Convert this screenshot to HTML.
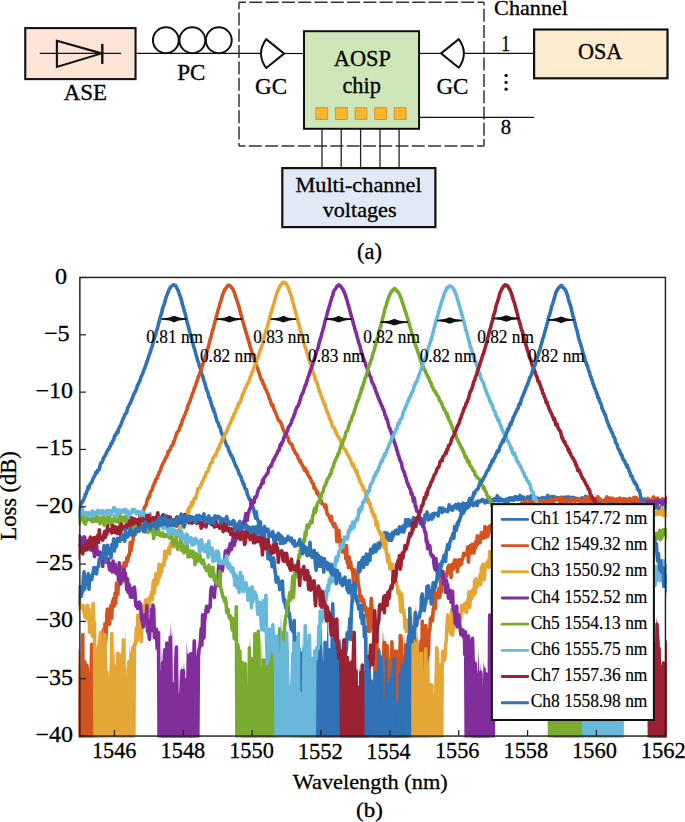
<!DOCTYPE html><html><head><meta charset="utf-8"><style>html,body{margin:0;padding:0;background:#fff;width:685px;height:822px;overflow:hidden}svg{display:block}text{font-family:"Liberation Serif",serif;fill:#000;stroke:#000;stroke-width:0.3px}.sm{stroke-width:0.18px}</style></head><body><svg width="685" height="822" viewBox="0 0 685 822"><path d="M239,2.2 L484,2.2" stroke="#333" stroke-width="1.5" stroke-dasharray="13 3.3" stroke-dashoffset="6" fill="none"/>
<path d="M484,146.1 L484,2.2" stroke="#333" stroke-width="1.5" stroke-dasharray="13 3.3" stroke-dashoffset="6" fill="none"/>
<path d="M484,146.1 L239,146.1" stroke="#333" stroke-width="1.5" stroke-dasharray="13 3.3" stroke-dashoffset="6" fill="none"/>
<path d="M239,2.2 L239,146.1" stroke="#333" stroke-width="1.5" stroke-dasharray="13 3.3" stroke-dashoffset="6" fill="none"/>
<rect x="25.25" y="28.1" width="110.3" height="51.0" fill="#fce4d7" stroke="#111" stroke-width="2.1"/>
<line x1="39.8" y1="53.4" x2="121" y2="53.4" stroke="#111" stroke-width="1.2"/>
<path d="M56.9,40.8 L101.6,53.4 L56.9,66.9 Z" fill="none" stroke="#111" stroke-width="2.1" stroke-linejoin="miter"/>
<line x1="102.3" y1="43.9" x2="102.3" y2="63.9" stroke="#111" stroke-width="2.4"/>
<line x1="136" y1="53.4" x2="261" y2="53.4" stroke="#111" stroke-width="1.2"/>
<circle cx="165.85" cy="40.25" r="12.9" fill="none" stroke="#111" stroke-width="2"/>
<circle cx="192.35" cy="40.25" r="12.9" fill="none" stroke="#111" stroke-width="2"/>
<circle cx="218.8" cy="40.25" r="12.9" fill="none" stroke="#111" stroke-width="2"/>
<path d="M266.2,39.1 L284.1,53.6 L266.2,68.0 Q255.8,53.55 266.2,39.1 Z" fill="none" stroke="#111" stroke-width="2" stroke-linejoin="round"/>
<line x1="284.1" y1="53.5" x2="304" y2="53.5" stroke="#111" stroke-width="1.2"/>
<rect x="304.0" y="31.2" width="115.05" height="97.6" fill="#cde6b8" stroke="#111" stroke-width="2"/>
<rect x="315.90" y="107.65" width="11.8" height="11.8" fill="#f6b72c" stroke="#ea8536" stroke-width="0.9"/>
<rect x="335.50" y="107.65" width="11.8" height="11.8" fill="#f6b72c" stroke="#ea8536" stroke-width="0.9"/>
<rect x="355.10" y="107.65" width="11.8" height="11.8" fill="#f6b72c" stroke="#ea8536" stroke-width="0.9"/>
<rect x="374.70" y="107.65" width="11.8" height="11.8" fill="#f6b72c" stroke="#ea8536" stroke-width="0.9"/>
<rect x="394.30" y="107.65" width="11.8" height="11.8" fill="#f6b72c" stroke="#ea8536" stroke-width="0.9"/>
<line x1="322" y1="129" x2="322" y2="168" stroke="#222" stroke-width="1.3"/>
<line x1="341.2" y1="129" x2="341.2" y2="168" stroke="#222" stroke-width="1.3"/>
<line x1="360.6" y1="129" x2="360.6" y2="168" stroke="#222" stroke-width="1.3"/>
<line x1="380" y1="129" x2="380" y2="168" stroke="#222" stroke-width="1.3"/>
<line x1="399.1" y1="129" x2="399.1" y2="168" stroke="#222" stroke-width="1.3"/>
<line x1="419" y1="53.4" x2="441.1" y2="53.4" stroke="#111" stroke-width="1.2"/>
<path d="M441.1,53.4 L458.8,39.1 Q469.0,53.4 458.8,67.7 Z" fill="none" stroke="#111" stroke-width="2" stroke-linejoin="round"/>
<line x1="464" y1="53.4" x2="534" y2="53.4" stroke="#111" stroke-width="1.2"/>
<line x1="419" y1="117.4" x2="534" y2="117.4" stroke="#111" stroke-width="1.25"/>
<rect x="534.1" y="29.5" width="133.4" height="48.8" fill="#fdecce" stroke="#111" stroke-width="2.2"/>
<rect x="282.3" y="168.1" width="153.1" height="59.0" fill="#e0e9f5" stroke="#111" stroke-width="2.2"/>
<circle cx="506.1" cy="75.5" r="1.65" fill="#111"/>
<circle cx="506.1" cy="82.4" r="1.65" fill="#111"/>
<circle cx="506.1" cy="89.2" r="1.65" fill="#111"/>
<text transform="translate(63.77,100.35) scale(1.0200,1)" font-size="22.50">ASE</text>
<text transform="translate(177.21,79.93) scale(0.9908,1)" font-size="23.28">PC</text>
<text transform="translate(255.07,93.82) scale(0.9646,1)" font-size="24.03">GC</text>
<text transform="translate(436.38,93.82) scale(0.9613,1)" font-size="24.03">GC</text>
<text x="333.78" y="65.95" font-size="22.35">AOSP</text>
<text transform="translate(342.40,92.94) scale(0.9900,1)" font-size="22.67">chip</text>
<text transform="translate(494.11,15.47) scale(1.0289,1)" font-size="21.55">Channel</text>
<text transform="translate(501.21,51.40) scale(0.7592,1)" font-size="23.33">1</text>
<text transform="translate(500.87,134.06) scale(0.9441,1)" font-size="21.94">8</text>
<text transform="translate(577.91,59.04) scale(0.9742,1)" font-size="22.79">OSA</text>
<text transform="translate(295.43,192.28) scale(1.0200,1)" font-size="21.86">Multi-channel</text>
<text transform="translate(322.70,216.50) scale(1.1091,1)" font-size="20.00">voltages</text>
<text transform="translate(357.00,258.77) scale(0.9751,1)" font-size="23.00">(a)</text>
<defs><clipPath id="ax"><rect x="78.5" y="276.0" width="588.3" height="461.5"/></clipPath></defs>
<g clip-path="url(#ax)" fill="none" stroke-width="3.6" stroke-linejoin="round" stroke-linecap="round">
<polygon fill="#2f72b5" stroke="none" points="300.3,753.2 300.3,653.5 301.0,657.9 301.7,658.7 302.4,658.3 303.1,651.7 303.8,655.2 304.5,648.9 305.2,668.8 305.9,653.8 306.5,655.0 307.2,658.2 307.9,662.5 308.6,652.0 309.3,675.9 310.0,653.1 310.7,667.0 311.4,666.6 312.1,665.6 312.7,676.8 313.4,658.6 314.1,649.0 314.8,651.3 315.5,653.7 316.2,677.6 316.9,655.6 317.6,648.8 318.3,650.5 318.9,638.5 319.6,657.8 320.3,630.9 321.0,642.6 321.7,674.7 322.4,643.5 323.1,663.6 323.8,661.5 324.4,662.9 325.1,642.4 325.8,660.0 326.5,653.1 327.2,628.5 327.9,594.7 328.6,648.4 329.3,649.9 330.0,673.5 330.6,667.4 331.3,655.4 332.0,655.6 332.7,603.8 333.4,631.6 334.1,650.4 334.8,642.6 335.5,647.2 336.2,648.4 336.8,642.8 337.5,649.3 338.2,648.9 338.9,640.9 339.6,653.7 340.3,658.9 340.3,753.2"/>
<polyline stroke="#2f72b5" points="76.6,515.0 77.2,515.2 77.9,514.8 78.6,510.4 79.3,510.2 80.0,509.7 80.7,504.3 81.4,503.6 82.1,501.3 82.8,501.8 83.4,499.8 84.1,498.6 84.8,496.9 85.5,494.0 86.2,493.7 86.9,490.9 87.6,489.5 88.3,486.5 89.0,488.3 89.6,484.7 90.3,484.3 91.0,482.8 91.7,482.7 92.4,480.4 93.1,478.0 93.8,477.4 94.5,475.9 95.1,474.9 95.8,472.2 96.5,472.0 97.2,472.6 97.9,469.9 98.6,469.7 99.3,469.6 100.0,465.8 100.7,462.9 101.3,462.7 102.0,462.5 102.7,461.0 103.4,457.9 104.1,457.4 104.8,456.2 105.5,455.0 106.2,453.6 106.9,451.7 107.5,450.6 108.2,449.5 108.9,449.3 109.6,446.7 110.3,446.3 111.0,443.5 111.7,444.1 112.4,441.8 113.1,440.4 113.7,440.1 114.4,436.3 115.1,435.1 115.8,435.2 116.5,432.9 117.2,431.7 117.9,432.6 118.6,429.0 119.2,427.8 119.9,426.2 120.6,425.5 121.3,423.5 122.0,421.9 122.7,419.3 123.4,418.4 124.1,417.1 124.8,414.5 125.4,414.4 126.1,412.8 126.8,412.2 127.5,408.3 128.2,407.2 128.9,405.7 129.6,404.3 130.3,403.1 131.0,401.4 131.6,400.1 132.3,398.5 133.0,396.7 133.7,394.2 134.4,393.2 135.1,392.0 135.8,390.6 136.5,389.0 137.2,386.0 137.8,385.0 138.5,383.6 139.2,382.1 139.9,380.8 140.6,378.5 141.3,376.2 142.0,375.1 142.7,373.3 143.4,371.5 144.0,369.5 144.7,368.6 145.4,366.0 146.1,364.4 146.8,361.6 147.5,360.6 148.2,357.9 148.9,355.5 149.5,354.4 150.2,352.5 150.9,349.9 151.6,347.8 152.3,345.9 153.0,343.0 153.7,340.0 154.4,338.6 155.1,336.2 155.7,334.2 156.4,331.2 157.1,329.4 157.8,326.9 158.5,323.5 159.2,321.9 159.9,318.6 160.6,316.0 161.3,314.0 161.9,311.5 162.6,308.5 163.3,306.8 164.0,304.6 164.7,302.5 165.4,299.9 166.1,297.3 166.8,295.4 167.5,294.0 168.1,292.1 168.8,290.4 169.5,288.8 170.2,288.0 170.9,286.9 171.6,286.1 172.3,285.6 173.0,285.0 173.6,284.7 174.3,285.1 175.0,285.4 175.7,285.7 176.4,287.1 177.1,288.3 177.8,290.1 178.5,290.9 179.2,293.7 179.8,295.6 180.5,297.1 181.2,299.4 181.9,302.0 182.6,305.0 183.3,307.1 184.0,309.9 184.7,312.1 185.4,314.1 186.0,317.5 186.7,320.5 187.4,323.4 188.1,325.6 188.8,328.3 189.5,331.3 190.2,333.4 190.9,336.6 191.6,338.1 192.2,340.7 192.9,343.1 193.6,346.3 194.3,348.2 195.0,350.9 195.7,353.4 196.4,355.7 197.1,358.5 197.7,360.8 198.4,362.0 199.1,364.8 199.8,366.9 200.5,368.7 201.2,372.5 201.9,374.2 202.6,376.0 203.3,378.1 203.9,380.8 204.6,382.2 205.3,384.9 206.0,387.9 206.7,390.0 207.4,391.1 208.1,393.5 208.8,397.1 209.5,397.2 210.1,399.8 210.8,401.4 211.5,404.6 212.2,406.6 212.9,409.2 213.6,408.7 214.3,412.6 215.0,413.3 215.7,416.8 216.3,418.2 217.0,421.4 217.7,422.4 218.4,423.2 219.1,426.7 219.8,426.8 220.5,429.1 221.2,431.9 221.8,433.2 222.5,434.9 223.2,436.3 223.9,438.4 224.6,440.3 225.3,441.6 226.0,443.8 226.7,445.7 227.4,446.3 228.0,447.1 228.7,450.7 229.4,451.1 230.1,453.2 230.8,455.1 231.5,455.1 232.2,457.8 232.9,457.7 233.6,461.2 234.2,461.7 234.9,463.8 235.6,465.9 236.3,466.2 237.0,468.5 237.7,469.4 238.4,471.5 239.1,474.0 239.8,474.7 240.4,476.2 241.1,476.9 241.8,480.3 242.5,481.1 243.2,484.3 243.9,483.7 244.6,487.0 245.3,489.3 245.9,489.3 246.6,489.8 247.3,494.4 248.0,495.7 248.7,497.1 249.4,499.5 250.1,499.1 250.8,502.7 251.5,504.4 252.1,504.1 252.8,508.3 253.5,507.9 254.2,512.5 254.9,514.9 255.6,518.2 256.3,511.9 257.0,518.7 257.7,519.2 258.3,521.7 259.0,523.1 259.7,525.2 260.4,521.9 261.1,532.1 261.8,535.6 262.5,535.9 263.2,538.9 263.9,534.1 264.5,535.7 265.2,543.7 265.9,547.2 266.6,545.5 267.3,541.0 268.0,558.8 268.7,548.0 269.4,556.3 270.1,549.7 270.7,560.5 271.4,559.3 272.1,566.7 272.8,566.5 273.5,557.9 274.2,562.5 274.9,570.3 275.6,574.8 276.2,582.1 276.9,576.8 277.6,577.1 278.3,579.6 279.0,581.8 279.7,589.7 280.4,586.1 281.1,588.1 281.8,582.6 282.4,581.2 283.1,595.3 283.8,601.4 284.5,599.2 285.2,604.9 285.9,608.0 286.6,605.8 287.3,615.0 288.0,605.7 288.6,613.3 289.3,613.1 290.0,618.8 290.7,625.6 291.4,629.5 292.1,626.3 292.8,631.5 293.5,627.4 294.2,620.6 294.8,753.2 295.5,753.2 296.2,637.5 296.9,753.2 297.6,753.2 298.3,667.9 299.0,648.7 299.7,753.2 300.3,653.5 301.0,657.9 301.7,658.7 302.4,658.3 303.1,651.7 303.8,753.2 304.5,648.9 305.2,753.2 305.9,753.2 306.5,655.0 307.2,753.2 307.9,753.2 308.6,652.0 309.3,753.2 310.0,753.2 310.7,667.0 311.4,753.2 312.1,753.2 312.7,676.8 313.4,753.2 314.1,753.2 314.8,651.3 315.5,753.2 316.2,677.6 316.9,655.6 317.6,648.8 318.3,753.2 318.9,753.2 319.6,657.8 320.3,630.9 321.0,753.2 321.7,753.2 322.4,753.2 323.1,753.2 323.8,753.2 324.4,753.2 325.1,642.4 325.8,753.2 326.5,753.2 327.2,753.2 327.9,753.2 328.6,753.2 329.3,649.9 330.0,753.2 330.6,753.2 331.3,655.4 332.0,655.6 332.7,603.8 333.4,631.6 334.1,753.2 334.8,753.2 335.5,753.2 336.2,648.4 336.8,642.8 337.5,649.3 338.2,648.9 338.9,640.9 339.6,653.7 340.3,753.2 341.0,753.2 341.7,753.2 342.4,654.4 343.0,671.9 343.7,641.7 344.4,642.1 345.1,642.5 345.8,653.0 346.5,647.3 347.2,632.8 347.9,633.5 348.5,637.7 349.2,629.9 349.9,618.6 350.6,639.4 351.3,613.7 352.0,602.1 352.7,597.0 353.4,586.7 354.1,586.2 354.7,587.2 355.4,583.6 356.1,577.6 356.8,581.7 357.5,576.5 358.2,569.7 358.9,562.8 359.6,571.8 360.3,569.7 360.9,567.1 361.6,560.3 362.3,565.5 363.0,557.4 363.7,567.3 364.4,562.6 365.1,561.6 365.8,556.2 366.5,554.1 367.1,564.2 367.8,560.7 368.5,554.5 369.2,557.8 369.9,560.5 370.6,549.2 371.3,550.7 372.0,550.0 372.6,553.1 373.3,546.4 374.0,550.7 374.7,544.8 375.4,551.8 376.1,550.9 376.8,546.2 377.5,548.9 378.2,543.1 378.8,544.0 379.5,547.7 380.2,543.4 380.9,544.3 381.6,539.3 382.3,544.1 383.0,542.9 383.7,536.6 384.4,532.6 385.0,532.9 385.7,538.9 386.4,537.9 387.1,533.0 387.8,538.0 388.5,540.3 389.2,536.3 389.9,534.7 390.6,538.3 391.2,540.4 391.9,539.3 392.6,532.2 393.3,536.2 394.0,533.8 394.7,532.3 395.4,530.6 396.1,533.1 396.8,530.2 397.4,533.9 398.1,531.9 398.8,533.4 399.5,526.7 400.2,529.6 400.9,531.3 401.6,529.8 402.3,529.0 402.9,526.0 403.6,532.1 404.3,530.1 405.0,527.9 405.7,519.5 406.4,523.5 407.1,526.1 407.8,523.5 408.5,519.5 409.1,525.4 409.8,525.4 410.5,520.8 411.2,522.4 411.9,521.6 412.6,524.4 413.3,517.8 414.0,518.0 414.7,520.6 415.3,520.0 416.0,526.5 416.7,519.5 417.4,521.3 418.1,519.4 418.8,518.5 419.5,520.7 420.2,523.7 420.9,518.4 421.5,520.7 422.2,519.4 422.9,519.8 423.6,518.9 424.3,523.2 425.0,514.7 425.7,516.6 426.4,514.4 427.0,512.1 427.7,516.3 428.4,520.1 429.1,517.8 429.8,518.2 430.5,516.3 431.2,514.8 431.9,519.1 432.6,513.7 433.2,517.4 433.9,513.3 434.6,513.9 435.3,514.1 436.0,513.3 436.7,514.1 437.4,514.0 438.1,516.0 438.8,512.3 439.4,508.2 440.1,507.8 440.8,508.9 441.5,509.9 442.2,512.5 442.9,508.0 443.6,510.8 444.3,510.7 445.0,510.9 445.6,509.9 446.3,510.8 447.0,509.9 447.7,511.6 448.4,510.0 449.1,504.8 449.8,509.1 450.5,509.2 451.1,507.5 451.8,507.0 452.5,510.3 453.2,508.4 453.9,506.1 454.6,507.1 455.3,507.2 456.0,504.4 456.7,508.3 457.3,506.8 458.0,507.7 458.7,503.9 459.4,509.9 460.1,507.4 460.8,507.0 461.5,504.7 462.2,504.7 462.9,503.1 463.5,508.1 464.2,503.9 464.9,505.6 465.6,506.0 466.3,503.8 467.0,506.2 467.7,507.9 468.4,504.9 469.1,506.6 469.7,505.1 470.4,503.2 471.1,503.2 471.8,500.9 472.5,503.7 473.2,505.7 473.9,504.3 474.6,504.4 475.2,504.7 475.9,502.0 476.6,503.5 477.3,505.5 478.0,501.1 478.7,502.3 479.4,501.4 480.1,501.6 480.8,500.7 481.4,501.5 482.1,499.5 482.8,500.6 483.5,500.5 484.2,500.3 484.9,503.0 485.6,500.9 486.3,500.9 487.0,500.1 487.6,502.3 488.3,497.8 489.0,499.9 489.7,501.8 490.4,502.4 491.1,500.3 491.8,500.0 492.5,500.8 493.2,499.6 493.8,500.6 494.5,498.8 495.2,500.6 495.9,499.6 496.6,498.1 497.3,495.8 498.0,500.9 498.7,500.1 499.4,500.6 500.0,498.2 500.7,500.9 501.4,499.9 502.1,499.3 502.8,500.6 503.5,500.5 504.2,499.8 504.9,502.1 505.5,501.1 506.2,499.6 506.9,498.8 507.6,499.2 508.3,501.5 509.0,499.6 509.7,497.8 510.4,498.1 511.1,499.0 511.7,500.1 512.4,497.9 513.1,499.6 513.8,500.4 514.5,499.9 515.2,496.7 515.9,498.4 516.6,497.1 517.3,499.4 517.9,497.4 518.6,499.6 519.3,498.9 520.0,495.2 520.7,497.6 521.4,499.4 522.1,498.8 522.8,498.3 523.5,497.0 524.1,499.4 524.8,501.2 525.5,499.1 526.2,498.7 526.9,498.6 527.6,496.9 528.3,498.3 529.0,497.6 529.6,500.3 530.3,497.5 531.0,495.8 531.7,497.6 532.4,498.4 533.1,498.5 533.8,496.2 534.5,500.0 535.2,498.9 535.8,498.1 536.5,497.7 537.2,499.3 537.9,498.3 538.6,499.1 539.3,498.6 540.0,498.9 540.7,500.3 541.4,498.8 542.0,497.5 542.7,500.1 543.4,499.1 544.1,497.8 544.8,500.2 545.5,498.5 546.2,500.2 546.9,497.1 547.6,495.5 548.2,495.9 548.9,499.0 549.6,497.7 550.3,498.6 551.0,498.6 551.7,496.5 552.4,500.6 553.1,497.2 553.7,498.8 554.4,496.7 555.1,498.5 555.8,499.7 556.5,498.3 557.2,497.7 557.9,498.7 558.6,498.0 559.3,499.5 559.9,501.7 560.6,497.5 561.3,497.7 562.0,498.5 562.7,498.6 563.4,497.3 564.1,499.4 564.8,499.7 565.5,499.0 566.1,497.1 566.8,500.7 567.5,497.1 568.2,499.7 568.9,500.4 569.6,497.1 570.3,499.0 571.0,500.7 571.7,499.4 572.3,497.6 573.0,497.3 573.7,499.6 574.4,498.5 575.1,498.1 575.8,500.0 576.5,498.6 577.2,499.2 577.8,500.0 578.5,500.0 579.2,499.2 579.9,499.3 580.6,500.2 581.3,500.0 582.0,497.9 582.7,499.2 583.4,498.3 584.0,497.9 584.7,498.8 585.4,496.4 586.1,501.0 586.8,498.6 587.5,500.4 588.2,497.2 588.9,497.5 589.6,502.9 590.2,501.5 590.9,499.2 591.6,499.1 592.3,499.2 593.0,500.4 593.7,499.7 594.4,499.5 595.1,500.6 595.8,499.0 596.4,504.0 597.1,499.7 597.8,502.3 598.5,499.4 599.2,501.2 599.9,502.3 600.6,500.4 601.3,502.5 601.9,502.5 602.6,503.6 603.3,501.3 604.0,500.6 604.7,499.8 605.4,501.7 606.1,499.9 606.8,501.5 607.5,501.8 608.1,500.8 608.8,500.1 609.5,502.3 610.2,502.3 610.9,502.2 611.6,501.9 612.3,503.5 613.0,500.5 613.7,502.8 614.3,501.5 615.0,503.6 615.7,501.8 616.4,501.8 617.1,503.1 617.8,499.3 618.5,502.0 619.2,499.8 619.9,501.2 620.5,503.8 621.2,503.4 621.9,502.2 622.6,502.8 623.3,502.9 624.0,503.5 624.7,506.1 625.4,503.6 626.1,506.9 626.7,502.7 627.4,504.6 628.1,504.6 628.8,503.9 629.5,503.1 630.2,506.0 630.9,506.6 631.6,505.6 632.2,507.3 632.9,505.6 633.6,501.4 634.3,505.8 635.0,503.1 635.7,506.5 636.4,503.8 637.1,504.9 637.8,504.5 638.4,503.6 639.1,501.6 639.8,504.3 640.5,504.5 641.2,506.5 641.9,503.9 642.6,505.4 643.3,503.6 644.0,505.2 644.6,502.2 645.3,508.7 646.0,505.9 646.7,503.9 647.4,506.1 648.1,507.0 648.8,506.1 649.5,508.2 650.2,505.6 650.8,501.6 651.5,504.0 652.2,508.0 652.9,507.7 653.6,506.9 654.3,504.5 655.0,507.9 655.7,507.7 656.3,505.0 657.0,505.1 657.7,507.4 658.4,508.8 659.1,509.7 659.8,508.3 660.5,511.1 661.2,505.8 661.9,508.4 662.5,506.4 663.2,504.0 663.9,505.4 664.6,509.7 665.3,506.1 666.0,505.6 666.7,509.2 667.4,509.7 668.1,508.2 668.7,511.1"/>
<polygon fill="#d45420" stroke="none" points="76.6,753.2 76.6,673.2 77.2,650.1 77.9,656.9 78.6,666.2 79.3,710.1 80.0,680.3 80.7,674.1 81.4,682.4 82.1,672.2 82.8,634.5 83.4,673.9 84.1,682.9 84.8,661.7 85.5,668.3 86.2,668.2 86.9,665.4 87.6,673.7 88.3,679.8 89.0,696.5 89.6,683.3 90.3,670.6 91.0,680.9 91.7,644.4 92.4,664.6 93.1,686.4 93.8,669.8 94.5,649.2 95.1,652.0 95.1,753.2"/>
<polygon fill="#d45420" stroke="none" points="378.2,753.2 378.2,649.1 378.8,668.9 379.5,668.4 380.2,664.2 380.9,647.2 381.6,662.8 382.3,642.7 383.0,629.2 383.7,643.3 384.4,642.6 385.0,648.2 385.7,666.0 386.4,639.8 387.1,645.5 387.8,665.5 388.5,674.8 389.2,660.3 389.9,647.6 390.6,653.3 391.2,657.9 391.9,641.9 392.6,663.6 393.3,671.9 394.0,652.9 394.7,655.5 395.4,651.1 396.1,684.7 396.8,675.2 397.4,681.1 398.1,685.2 398.8,650.7 399.5,639.0 400.2,635.5 400.9,636.1 401.6,645.9 402.3,688.9 402.9,664.2 403.6,656.8 404.3,630.4 405.0,677.4 405.7,644.8 406.4,656.8 407.1,667.1 407.8,658.6 408.5,664.1 409.1,668.5 409.8,627.6 410.5,617.8 411.2,648.2 411.9,639.9 412.6,637.0 413.3,647.3 414.0,622.2 414.7,647.4 415.3,603.3 416.0,622.4 416.7,642.1 417.4,630.6 418.1,656.5 418.8,671.1 419.5,681.6 420.2,667.3 420.9,640.7 421.5,677.2 422.2,621.0 422.9,659.5 423.6,641.5 424.3,643.1 425.0,640.9 425.0,753.2"/>
<polyline stroke="#d45420" points="76.6,673.2 77.2,650.1 77.9,656.9 78.6,753.2 79.3,710.1 80.0,753.2 80.7,753.2 81.4,753.2 82.1,672.2 82.8,634.5 83.4,753.2 84.1,753.2 84.8,661.7 85.5,668.3 86.2,753.2 86.9,665.4 87.6,673.7 88.3,679.8 89.0,753.2 89.6,683.3 90.3,753.2 91.0,680.9 91.7,644.4 92.4,664.6 93.1,686.4 93.8,753.2 94.5,753.2 95.1,652.0 95.8,753.2 96.5,657.0 97.2,670.0 97.9,673.8 98.6,647.6 99.3,646.9 100.0,640.5 100.7,643.5 101.3,753.2 102.0,646.3 102.7,635.2 103.4,629.6 104.1,632.7 104.8,624.0 105.5,642.5 106.2,632.5 106.9,613.4 107.5,609.0 108.2,618.0 108.9,618.3 109.6,624.2 110.3,610.4 111.0,605.3 111.7,618.3 112.4,602.2 113.1,600.4 113.7,598.4 114.4,606.0 115.1,593.2 115.8,603.3 116.5,583.2 117.2,589.0 117.9,594.2 118.6,577.8 119.2,576.8 119.9,584.4 120.6,567.1 121.3,581.7 122.0,572.7 122.7,566.2 123.4,580.9 124.1,562.9 124.8,565.8 125.4,563.4 126.1,565.9 126.8,557.5 127.5,561.5 128.2,558.6 128.9,554.3 129.6,555.2 130.3,542.2 131.0,551.0 131.6,546.7 132.3,543.0 133.0,539.8 133.7,535.1 134.4,533.0 135.1,534.6 135.8,532.7 136.5,529.4 137.2,525.2 137.8,523.7 138.5,524.9 139.2,526.8 139.9,514.4 140.6,515.5 141.3,515.2 142.0,513.2 142.7,513.1 143.4,512.1 144.0,508.9 144.7,506.9 145.4,505.8 146.1,505.3 146.8,501.7 147.5,498.6 148.2,498.4 148.9,496.0 149.5,496.9 150.2,492.9 150.9,491.2 151.6,490.6 152.3,489.5 153.0,485.9 153.7,485.5 154.4,482.7 155.1,482.0 155.7,479.5 156.4,478.8 157.1,478.4 157.8,475.6 158.5,474.3 159.2,471.9 159.9,471.4 160.6,469.9 161.3,467.3 161.9,465.6 162.6,464.5 163.3,462.8 164.0,461.8 164.7,460.1 165.4,458.5 166.1,457.5 166.8,456.3 167.5,454.8 168.1,451.4 168.8,451.9 169.5,450.6 170.2,449.3 170.9,447.5 171.6,445.8 172.3,445.4 173.0,444.5 173.6,441.2 174.3,441.1 175.0,438.1 175.7,436.6 176.4,434.3 177.1,432.3 177.8,431.7 178.5,430.8 179.2,429.6 179.8,427.6 180.5,425.3 181.2,425.2 181.9,421.9 182.6,420.2 183.3,418.0 184.0,416.9 184.7,414.8 185.4,413.6 186.0,411.6 186.7,410.7 187.4,407.6 188.1,404.8 188.8,403.9 189.5,401.9 190.2,401.0 190.9,397.5 191.6,397.0 192.2,394.1 192.9,392.7 193.6,391.4 194.3,388.2 195.0,386.9 195.7,384.9 196.4,382.7 197.1,381.0 197.7,379.2 198.4,376.7 199.1,375.2 199.8,372.9 200.5,371.2 201.2,369.6 201.9,367.1 202.6,364.9 203.3,362.5 203.9,359.8 204.6,359.1 205.3,356.1 206.0,355.0 206.7,352.2 207.4,349.6 208.1,348.1 208.8,345.5 209.5,342.2 210.1,339.8 210.8,337.4 211.5,335.2 212.2,331.4 212.9,329.8 213.6,327.6 214.3,324.0 215.0,321.8 215.7,319.6 216.3,316.4 217.0,314.2 217.7,311.5 218.4,309.1 219.1,307.0 219.8,303.9 220.5,301.8 221.2,300.0 221.8,297.7 222.5,295.0 223.2,293.4 223.9,291.5 224.6,289.8 225.3,288.9 226.0,288.5 226.7,286.9 227.4,286.0 228.0,285.5 228.7,285.0 229.4,285.7 230.1,286.0 230.8,286.4 231.5,287.9 232.2,288.2 232.9,289.2 233.6,290.8 234.2,292.0 234.9,294.3 235.6,296.9 236.3,298.3 237.0,300.7 237.7,302.8 238.4,305.2 239.1,307.2 239.8,309.9 240.4,312.8 241.1,314.8 241.8,317.2 242.5,320.2 243.2,322.6 243.9,325.1 244.6,327.7 245.3,329.7 245.9,331.9 246.6,333.9 247.3,336.6 248.0,339.0 248.7,341.3 249.4,343.5 250.1,346.6 250.8,348.4 251.5,350.9 252.1,353.2 252.8,355.5 253.5,357.5 254.2,359.4 254.9,361.8 255.6,362.8 256.3,365.0 257.0,366.9 257.7,368.6 258.3,370.3 259.0,372.9 259.7,374.4 260.4,377.1 261.1,379.3 261.8,380.9 262.5,380.6 263.2,384.4 263.9,384.7 264.5,385.9 265.2,388.7 265.9,389.2 266.6,390.7 267.3,392.9 268.0,393.7 268.7,396.4 269.4,398.9 270.1,399.7 270.7,402.0 271.4,404.1 272.1,405.7 272.8,404.9 273.5,408.4 274.2,409.6 274.9,411.6 275.6,412.6 276.2,414.3 276.9,416.0 277.6,418.1 278.3,419.7 279.0,420.7 279.7,421.5 280.4,421.6 281.1,423.8 281.8,424.7 282.4,427.1 283.1,428.9 283.8,431.3 284.5,431.7 285.2,434.7 285.9,434.6 286.6,434.5 287.3,436.9 288.0,437.6 288.6,440.1 289.3,442.2 290.0,442.8 290.7,444.0 291.4,444.0 292.1,444.7 292.8,448.1 293.5,449.1 294.2,450.2 294.8,451.6 295.5,453.6 296.2,453.8 296.9,454.8 297.6,456.0 298.3,458.6 299.0,458.9 299.7,461.5 300.3,460.5 301.0,463.4 301.7,463.9 302.4,465.3 303.1,466.7 303.8,468.3 304.5,470.2 305.2,468.3 305.9,470.8 306.5,472.1 307.2,471.6 307.9,474.9 308.6,475.5 309.3,477.2 310.0,477.4 310.7,479.3 311.4,480.7 312.1,482.5 312.7,483.3 313.4,483.7 314.1,488.1 314.8,487.5 315.5,489.1 316.2,490.3 316.9,493.4 317.6,491.8 318.3,494.9 318.9,495.6 319.6,497.3 320.3,500.3 321.0,500.0 321.7,503.5 322.4,503.6 323.1,504.0 323.8,504.9 324.4,506.1 325.1,507.8 325.8,504.9 326.5,509.5 327.2,514.2 327.9,514.4 328.6,516.0 329.3,516.4 330.0,518.8 330.6,520.8 331.3,516.2 332.0,521.6 332.7,524.0 333.4,525.3 334.1,526.7 334.8,523.7 335.5,527.7 336.2,527.3 336.8,541.6 337.5,532.7 338.2,531.9 338.9,530.4 339.6,538.4 340.3,546.1 341.0,539.8 341.7,545.8 342.4,552.0 343.0,549.5 343.7,544.8 344.4,545.9 345.1,549.6 345.8,558.5 346.5,545.5 347.2,562.8 347.9,559.9 348.5,567.7 349.2,557.0 349.9,562.6 350.6,562.1 351.3,567.5 352.0,569.9 352.7,570.4 353.4,582.3 354.1,569.5 354.7,571.5 355.4,580.0 356.1,579.8 356.8,580.0 357.5,574.8 358.2,583.0 358.9,587.3 359.6,592.7 360.3,601.0 360.9,598.1 361.6,596.5 362.3,601.2 363.0,601.6 363.7,600.0 364.4,605.7 365.1,610.4 365.8,606.9 366.5,612.5 367.1,616.3 367.8,614.3 368.5,631.3 369.2,608.7 369.9,631.2 370.6,614.7 371.3,598.4 372.0,607.8 372.6,618.1 373.3,627.7 374.0,625.4 374.7,636.6 375.4,753.2 376.1,642.9 376.8,637.8 377.5,753.2 378.2,649.1 378.8,668.9 379.5,753.2 380.2,664.2 380.9,753.2 381.6,662.8 382.3,753.2 383.0,753.2 383.7,753.2 384.4,642.6 385.0,753.2 385.7,666.0 386.4,753.2 387.1,645.5 387.8,753.2 388.5,714.6 389.2,660.3 389.9,753.2 390.6,753.2 391.2,753.2 391.9,641.9 392.6,663.6 393.3,753.2 394.0,652.9 394.7,753.2 395.4,651.1 396.1,684.7 396.8,675.2 397.4,753.2 398.1,753.2 398.8,650.7 399.5,696.8 400.2,635.5 400.9,636.1 401.6,645.9 402.3,753.2 402.9,664.2 403.6,656.8 404.3,753.2 405.0,753.2 405.7,644.8 406.4,753.2 407.1,753.2 407.8,753.2 408.5,664.1 409.1,753.2 409.8,753.2 410.5,617.8 411.2,648.2 411.9,639.9 412.6,637.0 413.3,753.2 414.0,695.0 414.7,753.2 415.3,753.2 416.0,753.2 416.7,642.1 417.4,753.2 418.1,753.2 418.8,753.2 419.5,681.6 420.2,753.2 420.9,640.7 421.5,753.2 422.2,621.0 422.9,753.2 423.6,753.2 424.3,643.1 425.0,640.9 425.7,625.5 426.4,648.1 427.0,753.2 427.7,632.4 428.4,654.9 429.1,629.9 429.8,630.5 430.5,618.3 431.2,621.6 431.9,616.4 432.6,620.5 433.2,608.9 433.9,609.6 434.6,590.5 435.3,608.6 436.0,593.6 436.7,595.8 437.4,595.1 438.1,597.1 438.8,588.7 439.4,597.6 440.1,594.8 440.8,581.0 441.5,591.8 442.2,573.7 442.9,581.6 443.6,577.6 444.3,577.4 445.0,574.6 445.6,577.2 446.3,576.7 447.0,574.5 447.7,567.8 448.4,566.6 449.1,565.1 449.8,568.9 450.5,571.0 451.1,577.4 451.8,565.5 452.5,564.0 453.2,569.3 453.9,562.9 454.6,560.1 455.3,565.1 456.0,560.0 456.7,562.9 457.3,571.7 458.0,565.3 458.7,564.4 459.4,559.5 460.1,565.1 460.8,562.5 461.5,564.1 462.2,559.3 462.9,558.0 463.5,553.4 464.2,553.4 464.9,555.4 465.6,554.3 466.3,554.1 467.0,553.3 467.7,546.7 468.4,562.2 469.1,552.1 469.7,549.4 470.4,545.4 471.1,553.3 471.8,546.9 472.5,544.2 473.2,548.3 473.9,553.0 474.6,546.4 475.2,548.7 475.9,541.2 476.6,545.8 477.3,535.7 478.0,540.7 478.7,543.2 479.4,541.4 480.1,542.6 480.8,536.8 481.4,532.5 482.1,537.3 482.8,532.9 483.5,538.2 484.2,533.5 484.9,526.5 485.6,537.3 486.3,528.5 487.0,528.0 487.6,536.5 488.3,534.4 489.0,532.4 489.7,526.1 490.4,529.4 491.1,528.0 491.8,524.9 492.5,525.9 493.2,524.9 493.8,525.7 494.5,521.2 495.2,525.5 495.9,518.5 496.6,523.0 497.3,523.5 498.0,519.2 498.7,519.0 499.4,524.3 500.0,518.3 500.7,521.4 501.4,519.5 502.1,515.2 502.8,518.4 503.5,515.0 504.2,516.1 504.9,510.5 505.5,514.4 506.2,516.2 506.9,515.6 507.6,514.7 508.3,512.1 509.0,511.9 509.7,509.6 510.4,510.9 511.1,510.6 511.7,509.9 512.4,510.4 513.1,509.3 513.8,508.0 514.5,507.7 515.2,509.9 515.9,511.9 516.6,509.7 517.3,507.4 517.9,512.2 518.6,508.2 519.3,506.2 520.0,507.7 520.7,508.4 521.4,503.0 522.1,503.4 522.8,506.0 523.5,503.0 524.1,502.8 524.8,506.7 525.5,500.0 526.2,505.8 526.9,504.5 527.6,505.6 528.3,503.4 529.0,505.5 529.6,503.1 530.3,501.2 531.0,502.4 531.7,503.0 532.4,499.9 533.1,503.6 533.8,500.5 534.5,502.4 535.2,501.4 535.8,501.6 536.5,501.3 537.2,501.5 537.9,502.5 538.6,502.1 539.3,500.4 540.0,501.2 540.7,502.8 541.4,502.0 542.0,502.0 542.7,501.0 543.4,500.6 544.1,500.7 544.8,501.7 545.5,500.7 546.2,502.8 546.9,505.0 547.6,500.7 548.2,503.1 548.9,502.0 549.6,502.3 550.3,499.6 551.0,502.3 551.7,500.0 552.4,501.1 553.1,502.2 553.7,502.7 554.4,499.6 555.1,499.7 555.8,499.1 556.5,497.5 557.2,499.8 557.9,499.8 558.6,500.4 559.3,500.0 559.9,500.7 560.6,501.5 561.3,497.2 562.0,502.8 562.7,499.7 563.4,499.4 564.1,499.8 564.8,501.4 565.5,500.3 566.1,500.7 566.8,501.6 567.5,500.0 568.2,500.6 568.9,500.8 569.6,498.9 570.3,501.5 571.0,499.3 571.7,500.8 572.3,499.3 573.0,499.8 573.7,499.5 574.4,501.3 575.1,501.0 575.8,501.1 576.5,499.6 577.2,498.8 577.8,498.3 578.5,500.6 579.2,499.8 579.9,502.2 580.6,503.1 581.3,501.1 582.0,500.9 582.7,502.2 583.4,502.5 584.0,499.1 584.7,501.1 585.4,502.3 586.1,496.5 586.8,499.6 587.5,500.4 588.2,498.9 588.9,501.0 589.6,497.6 590.2,502.1 590.9,501.8 591.6,500.1 592.3,501.0 593.0,497.8 593.7,502.2 594.4,501.0 595.1,499.6 595.8,499.1 596.4,498.4 597.1,499.4 597.8,496.7 598.5,500.6 599.2,499.7 599.9,498.7 600.6,500.4 601.3,500.3 601.9,500.6 602.6,500.9 603.3,501.6 604.0,500.7 604.7,502.2 605.4,499.4 606.1,502.3 606.8,496.9 607.5,497.4 608.1,498.3 608.8,500.2 609.5,500.8 610.2,498.1 610.9,499.7 611.6,499.1 612.3,501.0 613.0,498.4 613.7,501.1 614.3,499.8 615.0,502.5 615.7,500.9 616.4,499.2 617.1,500.6 617.8,500.6 618.5,498.8 619.2,500.0 619.9,498.1 620.5,503.5 621.2,499.1 621.9,499.2 622.6,502.2 623.3,501.8 624.0,498.7 624.7,501.5 625.4,500.9 626.1,499.1 626.7,500.4 627.4,499.3 628.1,501.2 628.8,499.5 629.5,498.4 630.2,499.5 630.9,503.2 631.6,499.0 632.2,499.9 632.9,501.3 633.6,497.9 634.3,502.5 635.0,497.2 635.7,500.9 636.4,497.7 637.1,500.0 637.8,501.9 638.4,499.9 639.1,499.5 639.8,499.2 640.5,498.5 641.2,501.3 641.9,499.3 642.6,499.0 643.3,500.5 644.0,501.5 644.6,501.5 645.3,499.0 646.0,499.0 646.7,501.4 647.4,502.1 648.1,498.4 648.8,502.5 649.5,500.0 650.2,501.4 650.8,502.8 651.5,500.1 652.2,500.6 652.9,498.2 653.6,497.0 654.3,500.6 655.0,498.9 655.7,498.8 656.3,501.2 657.0,501.7 657.7,498.1 658.4,501.0 659.1,500.5 659.8,501.0 660.5,500.7 661.2,501.5 661.9,499.5 662.5,498.7 663.2,501.2 663.9,502.7 664.6,500.6 665.3,502.9 666.0,501.7 666.7,498.9 667.4,497.3 668.1,500.3 668.7,502.4"/>
<polygon fill="#e6a635" stroke="none" points="96.5,753.2 96.5,649.0 97.2,655.4 97.9,678.8 98.6,637.1 99.3,646.6 100.0,637.7 100.7,632.3 101.3,661.9 102.0,651.5 102.7,644.4 103.4,616.3 104.1,663.7 104.8,634.6 105.5,667.5 106.2,674.2 106.9,672.3 107.5,682.0 108.2,696.5 108.9,683.2 109.6,660.5 110.3,682.4 111.0,633.2 111.7,633.6 112.4,684.1 113.1,675.8 113.7,665.7 114.4,642.8 115.1,673.7 115.8,669.9 116.5,666.9 117.2,670.3 117.9,653.1 118.6,657.9 119.2,663.7 119.9,655.1 120.6,675.2 121.3,641.2 122.0,676.1 122.7,657.9 123.4,639.9 124.1,639.1 124.8,640.7 125.4,629.7 126.1,678.8 126.8,667.1 127.5,664.5 128.2,671.2 128.9,661.3 129.6,640.6 130.3,661.6 131.0,658.4 131.6,654.1 132.3,652.4 133.0,647.2 133.7,649.6 133.7,753.2"/>
<polygon fill="#e6a635" stroke="none" points="416.7,753.2 416.7,642.7 417.4,632.9 418.1,674.5 418.8,654.0 419.5,681.3 420.2,654.5 420.9,676.2 421.5,653.4 422.2,670.5 422.9,659.3 423.6,674.6 424.3,692.2 425.0,678.6 425.7,648.9 426.4,669.2 427.0,661.0 427.7,671.7 428.4,669.3 429.1,707.2 429.8,705.4 430.5,684.7 431.2,711.1 431.9,685.1 432.6,690.7 433.2,698.2 433.9,701.5 434.6,665.8 435.3,695.2 436.0,656.4 436.7,647.8 437.4,653.5 438.1,681.6 438.8,666.6 439.4,665.0 440.1,663.5 440.1,753.2"/>
<polyline stroke="#e6a635" points="76.6,610.0 77.2,603.9 77.9,609.7 78.6,597.7 79.3,595.7 80.0,605.4 80.7,605.4 81.4,607.2 82.1,608.5 82.8,606.6 83.4,605.7 84.1,612.1 84.8,617.0 85.5,616.4 86.2,608.0 86.9,618.7 87.6,605.2 88.3,620.0 89.0,609.1 89.6,632.1 90.3,630.8 91.0,623.9 91.7,627.0 92.4,636.1 93.1,603.6 93.8,623.7 94.5,622.9 95.1,753.2 95.8,753.2 96.5,649.0 97.2,753.2 97.9,753.2 98.6,753.2 99.3,646.6 100.0,637.7 100.7,632.3 101.3,753.2 102.0,651.5 102.7,644.4 103.4,753.2 104.1,753.2 104.8,634.6 105.5,667.5 106.2,674.2 106.9,672.3 107.5,682.0 108.2,753.2 108.9,753.2 109.6,753.2 110.3,682.4 111.0,753.2 111.7,633.6 112.4,684.1 113.1,675.8 113.7,665.7 114.4,753.2 115.1,673.7 115.8,753.2 116.5,666.9 117.2,753.2 117.9,653.1 118.6,753.2 119.2,663.7 119.9,655.1 120.6,753.2 121.3,753.2 122.0,753.2 122.7,745.8 123.4,639.9 124.1,753.2 124.8,753.2 125.4,753.2 126.1,753.2 126.8,753.2 127.5,753.2 128.2,671.2 128.9,661.3 129.6,753.2 130.3,661.6 131.0,753.2 131.6,654.1 132.3,652.4 133.0,647.2 133.7,753.2 134.4,644.6 135.1,644.8 135.8,639.0 136.5,627.8 137.2,640.6 137.8,615.1 138.5,631.0 139.2,620.0 139.9,627.8 140.6,629.8 141.3,641.5 142.0,610.5 142.7,622.6 143.4,621.4 144.0,605.9 144.7,612.1 145.4,600.1 146.1,599.6 146.8,604.2 147.5,605.1 148.2,599.6 148.9,610.9 149.5,599.0 150.2,596.9 150.9,598.5 151.6,591.9 152.3,600.0 153.0,584.2 153.7,580.3 154.4,593.1 155.1,583.2 155.7,573.8 156.4,578.2 157.1,584.1 157.8,582.0 158.5,570.8 159.2,564.3 159.9,577.2 160.6,570.0 161.3,572.2 161.9,568.2 162.6,563.8 163.3,563.8 164.0,565.1 164.7,551.3 165.4,559.6 166.1,558.1 166.8,551.2 167.5,554.3 168.1,553.6 168.8,547.6 169.5,553.8 170.2,545.5 170.9,543.0 171.6,543.0 172.3,544.6 173.0,542.5 173.6,547.0 174.3,540.1 175.0,537.3 175.7,534.0 176.4,535.0 177.1,535.2 177.8,535.1 178.5,531.3 179.2,529.4 179.8,525.0 180.5,527.0 181.2,527.0 181.9,524.5 182.6,524.1 183.3,522.1 184.0,525.5 184.7,522.5 185.4,520.1 186.0,514.9 186.7,514.7 187.4,512.9 188.1,509.4 188.8,512.4 189.5,506.8 190.2,506.8 190.9,507.4 191.6,502.2 192.2,505.6 192.9,503.6 193.6,500.7 194.3,498.4 195.0,497.7 195.7,498.7 196.4,494.9 197.1,493.1 197.7,488.9 198.4,488.8 199.1,488.5 199.8,488.2 200.5,485.4 201.2,485.4 201.9,482.7 202.6,481.1 203.3,480.3 203.9,478.3 204.6,477.4 205.3,476.2 206.0,472.8 206.7,472.3 207.4,471.7 208.1,470.6 208.8,468.4 209.5,466.6 210.1,464.9 210.8,463.0 211.5,462.4 212.2,462.4 212.9,458.3 213.6,457.6 214.3,456.4 215.0,454.6 215.7,455.5 216.3,453.2 217.0,451.8 217.7,449.0 218.4,449.5 219.1,447.4 219.8,444.4 220.5,443.7 221.2,443.0 221.8,439.8 222.5,440.8 223.2,438.0 223.9,437.0 224.6,435.0 225.3,434.1 226.0,433.0 226.7,430.7 227.4,430.4 228.0,427.5 228.7,426.6 229.4,424.2 230.1,423.6 230.8,422.2 231.5,419.9 232.2,417.8 232.9,418.5 233.6,415.5 234.2,413.6 234.9,413.4 235.6,411.5 236.3,408.9 237.0,408.4 237.7,406.7 238.4,403.6 239.1,403.8 239.8,402.2 240.4,401.6 241.1,399.2 241.8,397.7 242.5,394.3 243.2,393.1 243.9,393.0 244.6,389.4 245.3,388.6 245.9,387.5 246.6,385.3 247.3,383.9 248.0,383.0 248.7,381.9 249.4,379.7 250.1,377.5 250.8,376.0 251.5,374.5 252.1,371.8 252.8,371.2 253.5,368.3 254.2,367.3 254.9,365.1 255.6,364.0 256.3,361.5 257.0,360.0 257.7,358.6 258.3,355.8 259.0,353.9 259.7,351.5 260.4,349.7 261.1,348.1 261.8,345.7 262.5,344.2 263.2,341.3 263.9,337.9 264.5,335.5 265.2,333.5 265.9,331.3 266.6,328.8 267.3,326.4 268.0,324.8 268.7,322.0 269.4,318.7 270.1,316.3 270.7,314.1 271.4,311.9 272.1,309.5 272.8,307.1 273.5,304.8 274.2,302.7 274.9,299.7 275.6,297.7 276.2,295.6 276.9,292.9 277.6,291.2 278.3,289.8 279.0,287.7 279.7,287.2 280.4,285.3 281.1,284.6 281.8,284.0 282.4,283.0 283.1,282.2 283.8,282.6 284.5,283.1 285.2,282.5 285.9,284.0 286.6,284.4 287.3,286.1 288.0,286.9 288.6,288.7 289.3,290.1 290.0,292.5 290.7,294.8 291.4,296.2 292.1,298.9 292.8,302.1 293.5,303.9 294.2,306.7 294.8,309.4 295.5,311.8 296.2,314.3 296.9,316.8 297.6,319.7 298.3,322.7 299.0,324.8 299.7,326.8 300.3,330.3 301.0,332.0 301.7,334.6 302.4,337.5 303.1,339.6 303.8,342.5 304.5,344.7 305.2,347.4 305.9,349.0 306.5,350.8 307.2,354.0 307.9,355.2 308.6,359.1 309.3,360.6 310.0,362.8 310.7,363.5 311.4,366.9 312.1,368.3 312.7,371.9 313.4,372.8 314.1,374.7 314.8,377.1 315.5,380.7 316.2,381.0 316.9,382.7 317.6,384.4 318.3,387.0 318.9,390.2 319.6,391.3 320.3,392.6 321.0,395.6 321.7,396.6 322.4,399.2 323.1,400.7 323.8,402.1 324.4,405.0 325.1,404.4 325.8,408.0 326.5,409.7 327.2,412.2 327.9,413.4 328.6,415.4 329.3,417.9 330.0,419.6 330.6,420.0 331.3,421.9 332.0,425.4 332.7,426.6 333.4,426.8 334.1,428.1 334.8,429.1 335.5,432.0 336.2,432.0 336.8,434.2 337.5,435.7 338.2,436.9 338.9,437.4 339.6,439.1 340.3,440.1 341.0,442.7 341.7,443.8 342.4,445.8 343.0,446.6 343.7,447.8 344.4,449.2 345.1,449.5 345.8,451.0 346.5,452.1 347.2,453.9 347.9,454.4 348.5,456.5 349.2,457.1 349.9,458.8 350.6,459.9 351.3,462.0 352.0,464.3 352.7,465.9 353.4,464.3 354.1,467.0 354.7,468.4 355.4,470.4 356.1,472.1 356.8,470.5 357.5,475.6 358.2,476.2 358.9,477.7 359.6,480.3 360.3,482.0 360.9,483.1 361.6,484.4 362.3,486.1 363.0,486.6 363.7,490.1 364.4,490.3 365.1,490.8 365.8,493.0 366.5,497.3 367.1,501.6 367.8,498.1 368.5,500.4 369.2,503.8 369.9,502.5 370.6,507.2 371.3,508.1 372.0,512.2 372.6,511.4 373.3,514.8 374.0,516.9 374.7,515.1 375.4,519.0 376.1,525.2 376.8,521.6 377.5,523.1 378.2,529.6 378.8,530.4 379.5,531.1 380.2,534.0 380.9,534.9 381.6,535.2 382.3,541.1 383.0,534.3 383.7,546.2 384.4,547.9 385.0,540.6 385.7,541.0 386.4,552.4 387.1,555.7 387.8,562.0 388.5,554.9 389.2,561.7 389.9,569.0 390.6,565.8 391.2,563.7 391.9,569.6 392.6,564.3 393.3,572.1 394.0,578.4 394.7,583.5 395.4,582.6 396.1,581.1 396.8,585.4 397.4,586.3 398.1,593.5 398.8,592.2 399.5,591.5 400.2,602.3 400.9,611.7 401.6,594.0 402.3,603.6 402.9,612.6 403.6,610.2 404.3,615.7 405.0,628.3 405.7,619.8 406.4,631.3 407.1,621.8 407.8,626.6 408.5,619.7 409.1,632.8 409.8,753.2 410.5,638.0 411.2,642.6 411.9,655.9 412.6,632.1 413.3,642.4 414.0,753.2 414.7,646.6 415.3,647.5 416.0,652.1 416.7,642.7 417.4,753.2 418.1,753.2 418.8,654.0 419.5,753.2 420.2,654.5 420.9,676.2 421.5,653.4 422.2,753.2 422.9,753.2 423.6,674.6 424.3,692.2 425.0,753.2 425.7,648.9 426.4,753.2 427.0,661.0 427.7,671.7 428.4,753.2 429.1,753.2 429.8,705.4 430.5,684.7 431.2,711.1 431.9,685.1 432.6,753.2 433.2,698.2 433.9,753.2 434.6,753.2 435.3,695.2 436.0,753.2 436.7,647.8 437.4,653.5 438.1,681.6 438.8,666.6 439.4,665.0 440.1,753.2 440.8,753.2 441.5,753.2 442.2,664.7 442.9,651.1 443.6,651.8 444.3,660.4 445.0,657.7 445.6,645.7 446.3,639.9 447.0,627.6 447.7,614.9 448.4,621.3 449.1,630.8 449.8,617.0 450.5,631.9 451.1,633.9 451.8,609.9 452.5,635.0 453.2,628.6 453.9,626.2 454.6,612.0 455.3,626.2 456.0,614.9 456.7,622.5 457.3,627.3 458.0,615.7 458.7,615.1 459.4,623.4 460.1,620.3 460.8,618.7 461.5,605.4 462.2,607.8 462.9,608.3 463.5,605.4 464.2,610.8 464.9,603.2 465.6,609.1 466.3,612.5 467.0,607.0 467.7,599.8 468.4,599.2 469.1,591.7 469.7,607.4 470.4,596.9 471.1,591.7 471.8,598.4 472.5,589.8 473.2,592.2 473.9,594.9 474.6,580.6 475.2,593.4 475.9,578.6 476.6,585.1 477.3,586.6 478.0,584.9 478.7,582.8 479.4,582.0 480.1,574.9 480.8,584.5 481.4,567.4 482.1,568.2 482.8,564.2 483.5,574.4 484.2,579.5 484.9,570.1 485.6,566.6 486.3,563.2 487.0,565.8 487.6,562.7 488.3,560.6 489.0,567.1 489.7,551.5 490.4,563.3 491.1,556.6 491.8,552.4 492.5,559.5 493.2,555.5 493.8,548.1 494.5,555.3 495.2,549.2 495.9,551.6 496.6,551.2 497.3,548.6 498.0,551.8 498.7,551.0 499.4,545.9 500.0,548.0 500.7,546.5 501.4,552.3 502.1,547.2 502.8,542.1 503.5,542.8 504.2,544.3 504.9,546.9 505.5,546.7 506.2,542.4 506.9,538.4 507.6,542.8 508.3,537.8 509.0,543.0 509.7,537.3 510.4,544.5 511.1,539.9 511.7,543.8 512.4,537.4 513.1,537.3 513.8,542.0 514.5,540.9 515.2,539.4 515.9,542.5 516.6,540.2 517.3,539.6 517.9,533.9 518.6,531.6 519.3,537.1 520.0,536.3 520.7,534.3 521.4,536.3 522.1,535.2 522.8,531.4 523.5,533.0 524.1,533.6 524.8,534.8 525.5,528.3 526.2,534.3 526.9,531.8 527.6,535.0 528.3,533.4 529.0,531.1 529.6,532.3 530.3,529.3 531.0,530.4 531.7,534.4 532.4,536.8 533.1,526.9 533.8,531.3 534.5,525.0 535.2,529.0 535.8,531.0 536.5,527.0 537.2,529.1 537.9,528.1 538.6,530.5 539.3,525.8 540.0,524.3 540.7,528.6 541.4,522.0 542.0,528.3 542.7,525.8 543.4,530.8 544.1,531.3 544.8,520.1 545.5,521.8 546.2,522.3 546.9,529.8 547.6,524.4 548.2,523.7 548.9,524.4 549.6,523.6 550.3,526.6 551.0,524.4 551.7,526.8 552.4,524.5 553.1,522.5 553.7,525.3 554.4,523.8 555.1,524.0 555.8,522.7 556.5,520.2 557.2,521.8 557.9,521.2 558.6,525.7 559.3,522.8 559.9,519.7 560.6,523.7 561.3,522.5 562.0,523.7 562.7,517.8 563.4,522.1 564.1,522.6 564.8,519.1 565.5,517.8 566.1,519.2 566.8,517.8 567.5,519.6 568.2,520.3 568.9,520.9 569.6,520.9 570.3,521.0 571.0,518.6 571.7,519.6 572.3,519.0 573.0,517.7 573.7,519.1 574.4,522.2 575.1,520.7 575.8,521.3 576.5,523.1 577.2,518.2 577.8,521.2 578.5,521.3 579.2,520.7 579.9,516.1 580.6,518.7 581.3,515.6 582.0,518.0 582.7,518.8 583.4,516.3 584.0,516.2 584.7,517.2 585.4,519.8 586.1,518.4 586.8,520.0 587.5,517.7 588.2,516.9 588.9,513.6 589.6,513.7 590.2,515.3 590.9,514.6 591.6,516.1 592.3,510.3 593.0,513.0 593.7,510.4 594.4,515.5 595.1,515.4 595.8,513.8 596.4,515.7 597.1,515.4 597.8,518.2 598.5,513.8 599.2,515.6 599.9,514.0 600.6,516.2 601.3,519.6 601.9,514.5 602.6,512.9 603.3,518.3 604.0,517.6 604.7,516.0 605.4,515.8 606.1,519.0 606.8,511.3 607.5,512.9 608.1,516.4 608.8,519.0 609.5,514.1 610.2,510.5 610.9,513.0 611.6,512.2 612.3,516.8 613.0,514.1 613.7,517.9 614.3,510.2 615.0,513.3 615.7,519.0 616.4,518.4 617.1,513.3 617.8,514.0 618.5,514.9 619.2,512.9 619.9,509.8 620.5,513.4 621.2,518.0 621.9,514.4 622.6,516.8 623.3,515.7 624.0,513.3 624.7,514.3 625.4,516.2 626.1,513.9 626.7,515.6 627.4,512.7 628.1,514.3 628.8,512.9 629.5,514.3 630.2,512.1 630.9,513.9 631.6,513.6 632.2,514.8 632.9,513.3 633.6,517.3 634.3,507.8 635.0,514.9 635.7,513.2 636.4,514.4 637.1,514.4 637.8,512.5 638.4,514.4 639.1,514.2 639.8,516.2 640.5,515.2 641.2,515.7 641.9,509.4 642.6,516.0 643.3,515.4 644.0,512.8 644.6,510.1 645.3,516.7 646.0,516.4 646.7,512.8 647.4,512.3 648.1,516.0 648.8,516.8 649.5,515.0 650.2,511.4 650.8,513.0 651.5,511.4 652.2,513.1 652.9,512.9 653.6,511.6 654.3,513.1 655.0,512.3 655.7,514.7 656.3,514.0 657.0,511.8 657.7,513.3 658.4,514.3 659.1,511.4 659.8,511.6 660.5,512.7 661.2,514.3 661.9,510.8 662.5,507.4 663.2,514.4 663.9,515.8 664.6,514.2 665.3,514.5 666.0,515.2 666.7,515.0 667.4,510.8 668.1,510.8 668.7,509.5"/>
<polygon fill="#822d9c" stroke="none" points="161.3,753.2 161.3,671.6 161.9,647.0 162.6,662.9 163.3,669.6 164.0,651.5 164.7,649.7 165.4,646.1 166.1,653.8 166.8,643.0 167.5,661.9 168.1,686.9 168.8,665.5 169.5,659.3 170.2,637.2 170.9,621.7 171.6,642.5 172.3,630.0 173.0,697.3 173.6,683.9 174.3,689.9 175.0,694.8 175.7,663.7 176.4,647.1 177.1,644.9 177.8,656.4 178.5,695.7 179.2,691.8 179.8,674.0 180.5,695.3 181.2,665.9 181.9,670.7 182.6,675.2 183.3,670.9 184.0,661.3 184.7,679.2 185.4,682.8 186.0,689.9 186.7,641.2 187.4,652.4 188.1,655.9 188.8,655.4 189.5,664.0 190.2,666.1 190.9,653.5 191.6,688.8 192.2,655.7 192.9,669.7 193.6,664.0 194.3,640.9 195.0,664.3 195.7,653.9 195.7,753.2"/>
<polygon fill="#822d9c" stroke="none" points="471.8,753.2 471.8,636.1 472.5,638.4 473.2,663.0 473.9,658.6 474.6,665.2 475.2,663.1 475.9,680.1 476.6,667.3 477.3,674.9 478.0,665.3 478.7,649.1 479.4,681.1 480.1,663.3 480.8,672.0 481.4,698.7 482.1,692.6 482.8,686.0 483.5,661.1 484.2,665.7 484.9,668.6 485.6,666.4 486.3,674.1 487.0,682.1 487.6,683.8 488.3,699.0 489.0,684.7 489.7,615.1 489.7,753.2"/>
<polyline stroke="#822d9c" points="76.6,536.7 77.2,545.2 77.9,542.1 78.6,540.0 79.3,535.9 80.0,536.8 80.7,542.6 81.4,540.3 82.1,539.6 82.8,546.0 83.4,539.6 84.1,536.8 84.8,537.6 85.5,544.5 86.2,544.4 86.9,546.8 87.6,545.8 88.3,545.5 89.0,542.7 89.6,545.4 90.3,549.8 91.0,543.9 91.7,544.2 92.4,550.5 93.1,549.8 93.8,549.9 94.5,556.5 95.1,550.2 95.8,548.7 96.5,544.3 97.2,551.9 97.9,554.5 98.6,554.6 99.3,552.1 100.0,552.0 100.7,559.5 101.3,555.7 102.0,554.4 102.7,566.4 103.4,552.6 104.1,560.1 104.8,556.0 105.5,560.7 106.2,562.2 106.9,562.1 107.5,561.2 108.2,559.3 108.9,565.1 109.6,569.7 110.3,568.5 111.0,570.6 111.7,563.2 112.4,572.0 113.1,561.0 113.7,568.4 114.4,570.2 115.1,564.2 115.8,573.2 116.5,573.6 117.2,569.1 117.9,570.1 118.6,579.7 119.2,562.9 119.9,573.4 120.6,583.8 121.3,579.1 122.0,574.2 122.7,578.8 123.4,576.4 124.1,569.1 124.8,577.9 125.4,572.9 126.1,581.3 126.8,589.9 127.5,578.7 128.2,592.4 128.9,584.0 129.6,586.8 130.3,596.8 131.0,597.2 131.6,595.2 132.3,592.9 133.0,588.4 133.7,597.3 134.4,587.1 135.1,594.7 135.8,605.5 136.5,606.6 137.2,603.3 137.8,608.6 138.5,606.9 139.2,602.1 139.9,607.5 140.6,603.9 141.3,617.2 142.0,620.0 142.7,623.0 143.4,626.9 144.0,618.0 144.7,615.1 145.4,620.6 146.1,620.2 146.8,605.5 147.5,631.4 148.2,630.7 148.9,634.2 149.5,639.3 150.2,622.4 150.9,619.3 151.6,609.2 152.3,630.3 153.0,605.1 153.7,608.7 154.4,637.7 155.1,631.3 155.7,633.7 156.4,629.3 157.1,648.4 157.8,633.4 158.5,632.6 159.2,753.2 159.9,753.2 160.6,753.2 161.3,671.6 161.9,753.2 162.6,662.9 163.3,753.2 164.0,753.2 164.7,649.7 165.4,753.2 166.1,753.2 166.8,643.0 167.5,661.9 168.1,753.2 168.8,665.5 169.5,753.2 170.2,637.2 170.9,753.2 171.6,753.2 172.3,753.2 173.0,753.2 173.6,683.9 174.3,689.9 175.0,753.2 175.7,663.7 176.4,647.1 177.1,753.2 177.8,753.2 178.5,753.2 179.2,753.2 179.8,753.2 180.5,695.3 181.2,753.2 181.9,670.7 182.6,675.2 183.3,670.9 184.0,753.2 184.7,679.2 185.4,753.2 186.0,689.9 186.7,753.2 187.4,688.5 188.1,753.2 188.8,655.4 189.5,753.2 190.2,666.1 190.9,653.5 191.6,753.2 192.2,753.2 192.9,669.7 193.6,664.0 194.3,640.9 195.0,664.3 195.7,753.2 196.4,657.4 197.1,671.7 197.7,753.2 198.4,657.2 199.1,648.8 199.8,647.5 200.5,640.1 201.2,628.5 201.9,645.0 202.6,614.9 203.3,636.4 203.9,637.9 204.6,620.6 205.3,615.8 206.0,610.0 206.7,606.2 207.4,611.2 208.1,611.6 208.8,606.6 209.5,606.4 210.1,607.3 210.8,590.8 211.5,587.0 212.2,595.7 212.9,594.5 213.6,593.3 214.3,597.3 215.0,588.7 215.7,585.1 216.3,579.9 217.0,582.8 217.7,585.4 218.4,570.5 219.1,563.4 219.8,580.6 220.5,569.3 221.2,563.0 221.8,570.9 222.5,570.5 223.2,562.3 223.9,562.1 224.6,562.5 225.3,551.3 226.0,550.7 226.7,553.0 227.4,554.8 228.0,554.6 228.7,548.5 229.4,551.7 230.1,543.8 230.8,543.6 231.5,549.4 232.2,543.0 232.9,538.9 233.6,541.0 234.2,545.4 234.9,541.7 235.6,540.6 236.3,537.7 237.0,536.6 237.7,536.4 238.4,531.2 239.1,528.3 239.8,532.6 240.4,533.8 241.1,526.9 241.8,526.5 242.5,523.9 243.2,525.3 243.9,521.3 244.6,522.8 245.3,516.4 245.9,513.6 246.6,518.2 247.3,520.2 248.0,514.1 248.7,512.6 249.4,509.7 250.1,508.5 250.8,506.2 251.5,500.8 252.1,505.0 252.8,503.2 253.5,500.4 254.2,502.3 254.9,497.0 255.6,497.5 256.3,497.0 257.0,494.7 257.7,491.7 258.3,490.0 259.0,488.2 259.7,487.6 260.4,487.3 261.1,484.6 261.8,483.8 262.5,480.2 263.2,482.9 263.9,478.1 264.5,477.5 265.2,476.4 265.9,475.5 266.6,474.6 267.3,473.5 268.0,472.7 268.7,468.1 269.4,467.7 270.1,466.6 270.7,465.5 271.4,466.1 272.1,463.3 272.8,461.6 273.5,459.3 274.2,459.8 274.9,457.3 275.6,456.3 276.2,454.7 276.9,454.0 277.6,451.6 278.3,450.4 279.0,450.6 279.7,446.7 280.4,444.4 281.1,445.5 281.8,442.4 282.4,442.7 283.1,440.8 283.8,437.5 284.5,437.3 285.2,434.7 285.9,434.2 286.6,432.1 287.3,431.5 288.0,428.7 288.6,426.9 289.3,426.1 290.0,425.4 290.7,423.7 291.4,422.5 292.1,419.7 292.8,418.1 293.5,417.3 294.2,414.4 294.8,413.8 295.5,410.4 296.2,409.3 296.9,407.1 297.6,406.9 298.3,405.3 299.0,404.0 299.7,400.5 300.3,399.9 301.0,396.4 301.7,395.3 302.4,393.1 303.1,392.5 303.8,390.1 304.5,387.8 305.2,385.5 305.9,384.8 306.5,381.8 307.2,380.6 307.9,377.6 308.6,376.2 309.3,374.2 310.0,371.8 310.7,369.4 311.4,368.1 312.1,365.3 312.7,364.4 313.4,361.6 314.1,360.2 314.8,357.4 315.5,355.9 316.2,353.2 316.9,350.7 317.6,349.1 318.3,347.1 318.9,344.0 319.6,341.3 320.3,339.0 321.0,337.0 321.7,333.8 322.4,331.8 323.1,328.8 323.8,327.0 324.4,323.9 325.1,321.0 325.8,319.1 326.5,316.4 327.2,313.6 327.9,311.1 328.6,308.6 329.3,306.2 330.0,304.3 330.6,301.4 331.3,299.7 332.0,297.0 332.7,295.7 333.4,292.4 334.1,290.5 334.8,289.6 335.5,289.0 336.2,287.8 336.8,286.5 337.5,285.8 338.2,285.8 338.9,284.8 339.6,285.3 340.3,285.9 341.0,286.9 341.7,287.6 342.4,288.8 343.0,289.6 343.7,291.2 344.4,292.3 345.1,294.7 345.8,296.7 346.5,298.8 347.2,300.9 347.9,303.8 348.5,305.3 349.2,308.2 349.9,310.9 350.6,313.5 351.3,315.9 352.0,318.4 352.7,320.8 353.4,323.6 354.1,325.8 354.7,328.3 355.4,331.1 356.1,332.4 356.8,335.8 357.5,338.1 358.2,340.6 358.9,343.1 359.6,345.0 360.3,347.1 360.9,350.0 361.6,352.7 362.3,354.2 363.0,357.6 363.7,358.5 364.4,360.7 365.1,362.4 365.8,365.3 366.5,366.6 367.1,368.8 367.8,370.4 368.5,371.7 369.2,373.9 369.9,376.0 370.6,376.7 371.3,379.2 372.0,382.1 372.6,383.3 373.3,384.2 374.0,385.9 374.7,387.8 375.4,389.5 376.1,391.9 376.8,393.1 377.5,395.5 378.2,397.1 378.8,398.8 379.5,400.5 380.2,402.0 380.9,403.7 381.6,405.8 382.3,406.4 383.0,409.2 383.7,409.7 384.4,411.9 385.0,415.3 385.7,415.7 386.4,419.2 387.1,419.1 387.8,421.9 388.5,424.9 389.2,427.8 389.9,428.5 390.6,431.3 391.2,431.5 391.9,435.4 392.6,436.8 393.3,438.3 394.0,440.8 394.7,442.8 395.4,445.3 396.1,446.7 396.8,450.2 397.4,451.2 398.1,454.8 398.8,455.8 399.5,459.1 400.2,460.5 400.9,461.9 401.6,463.5 402.3,468.3 402.9,469.5 403.6,471.8 404.3,472.0 405.0,475.9 405.7,476.6 406.4,479.7 407.1,482.6 407.8,483.2 408.5,486.3 409.1,486.5 409.8,488.4 410.5,489.8 411.2,494.2 411.9,493.1 412.6,495.7 413.3,501.4 414.0,497.5 414.7,500.1 415.3,506.5 416.0,506.1 416.7,511.1 417.4,510.8 418.1,512.2 418.8,513.2 419.5,518.4 420.2,518.6 420.9,522.8 421.5,521.6 422.2,523.0 422.9,526.7 423.6,525.8 424.3,529.1 425.0,532.4 425.7,532.1 426.4,542.1 427.0,540.4 427.7,548.6 428.4,544.7 429.1,548.5 429.8,545.7 430.5,552.6 431.2,555.3 431.9,555.0 432.6,556.9 433.2,555.9 433.9,563.4 434.6,567.6 435.3,569.6 436.0,558.6 436.7,570.9 437.4,568.5 438.1,572.8 438.8,564.6 439.4,572.7 440.1,565.3 440.8,575.9 441.5,572.2 442.2,571.2 442.9,571.4 443.6,583.9 444.3,581.1 445.0,581.2 445.6,592.3 446.3,580.2 447.0,583.8 447.7,585.1 448.4,598.1 449.1,591.2 449.8,591.9 450.5,590.5 451.1,602.3 451.8,597.2 452.5,591.2 453.2,609.0 453.9,611.3 454.6,613.1 455.3,623.4 456.0,617.9 456.7,606.0 457.3,626.5 458.0,623.2 458.7,614.8 459.4,622.4 460.1,627.4 460.8,634.3 461.5,634.9 462.2,633.7 462.9,629.9 463.5,636.9 464.2,631.2 464.9,654.7 465.6,632.1 466.3,753.2 467.0,642.2 467.7,644.3 468.4,636.1 469.1,753.2 469.7,640.8 470.4,654.3 471.1,753.2 471.8,753.2 472.5,638.4 473.2,663.0 473.9,731.1 474.6,753.2 475.2,663.1 475.9,680.1 476.6,753.2 477.3,674.9 478.0,753.2 478.7,753.2 479.4,681.1 480.1,753.2 480.8,672.0 481.4,698.7 482.1,692.6 482.8,686.0 483.5,753.2 484.2,753.2 484.9,753.2 485.6,753.2 486.3,674.1 487.0,753.2 487.6,753.2 488.3,699.0 489.0,753.2 489.7,615.1 490.4,642.6 491.1,753.2 491.8,637.9 492.5,657.9 493.2,753.2 493.8,633.6 494.5,652.1 495.2,643.0 495.9,635.9 496.6,631.0 497.3,629.0 498.0,620.1 498.7,612.0 499.4,614.6 500.0,607.7 500.7,605.5 501.4,614.5 502.1,606.7 502.8,609.1 503.5,600.6 504.2,605.3 504.9,602.5 505.5,589.2 506.2,599.3 506.9,606.1 507.6,594.5 508.3,592.1 509.0,595.4 509.7,590.8 510.4,584.1 511.1,591.6 511.7,588.5 512.4,590.2 513.1,583.3 513.8,584.6 514.5,587.8 515.2,582.5 515.9,571.0 516.6,588.5 517.3,585.7 517.9,575.8 518.6,583.6 519.3,565.7 520.0,582.0 520.7,580.1 521.4,575.2 522.1,566.6 522.8,567.1 523.5,567.4 524.1,567.8 524.8,562.3 525.5,576.0 526.2,565.5 526.9,559.5 527.6,570.1 528.3,563.0 529.0,558.3 529.6,557.5 530.3,562.9 531.0,553.5 531.7,558.7 532.4,555.6 533.1,564.1 533.8,562.1 534.5,561.4 535.2,550.3 535.8,566.6 536.5,563.9 537.2,552.5 537.9,554.6 538.6,566.5 539.3,555.6 540.0,554.6 540.7,548.0 541.4,559.7 542.0,553.7 542.7,547.0 543.4,547.6 544.1,553.5 544.8,550.5 545.5,554.5 546.2,543.3 546.9,549.5 547.6,542.7 548.2,543.9 548.9,549.5 549.6,546.4 550.3,543.0 551.0,543.3 551.7,539.0 552.4,540.0 553.1,542.3 553.7,540.5 554.4,544.9 555.1,544.0 555.8,539.5 556.5,540.0 557.2,544.4 557.9,540.5 558.6,542.4 559.3,541.2 559.9,534.7 560.6,541.6 561.3,540.2 562.0,535.8 562.7,537.0 563.4,536.3 564.1,541.0 564.8,536.1 565.5,536.8 566.1,537.7 566.8,536.6 567.5,535.4 568.2,531.5 568.9,528.0 569.6,533.0 570.3,528.5 571.0,532.3 571.7,536.6 572.3,531.7 573.0,527.8 573.7,527.1 574.4,533.3 575.1,524.1 575.8,532.2 576.5,531.8 577.2,530.9 577.8,525.0 578.5,527.7 579.2,525.9 579.9,534.2 580.6,527.9 581.3,527.8 582.0,525.3 582.7,528.1 583.4,523.3 584.0,528.1 584.7,529.6 585.4,529.9 586.1,522.0 586.8,523.1 587.5,526.8 588.2,521.6 588.9,524.6 589.6,524.2 590.2,527.3 590.9,524.7 591.6,522.7 592.3,522.2 593.0,523.8 593.7,519.7 594.4,518.4 595.1,523.6 595.8,520.4 596.4,524.8 597.1,519.8 597.8,522.9 598.5,520.7 599.2,519.6 599.9,520.3 600.6,517.1 601.3,521.1 601.9,520.1 602.6,518.0 603.3,518.5 604.0,517.6 604.7,518.4 605.4,519.5 606.1,516.0 606.8,517.0 607.5,514.9 608.1,513.7 608.8,517.2 609.5,517.8 610.2,516.9 610.9,517.1 611.6,519.7 612.3,511.7 613.0,514.0 613.7,509.7 614.3,515.6 615.0,512.9 615.7,513.3 616.4,513.8 617.1,511.4 617.8,513.1 618.5,513.0 619.2,512.3 619.9,516.8 620.5,513.5 621.2,513.2 621.9,508.3 622.6,510.1 623.3,509.5 624.0,509.5 624.7,510.9 625.4,507.1 626.1,510.4 626.7,512.4 627.4,508.3 628.1,507.0 628.8,508.8 629.5,508.1 630.2,506.8 630.9,505.5 631.6,507.0 632.2,504.8 632.9,507.1 633.6,503.7 634.3,509.6 635.0,505.3 635.7,506.3 636.4,506.4 637.1,508.6 637.8,504.4 638.4,506.4 639.1,507.6 639.8,506.8 640.5,506.0 641.2,505.3 641.9,506.9 642.6,506.8 643.3,504.4 644.0,505.1 644.6,501.6 645.3,505.4 646.0,503.4 646.7,501.6 647.4,504.6 648.1,502.6 648.8,503.6 649.5,503.9 650.2,501.3 650.8,505.3 651.5,504.5 652.2,506.3 652.9,503.5 653.6,501.7 654.3,503.5 655.0,501.7 655.7,504.1 656.3,501.0 657.0,502.9 657.7,503.3 658.4,500.0 659.1,502.4 659.8,501.4 660.5,502.0 661.2,501.0 661.9,501.8 662.5,503.7 663.2,501.4 663.9,501.0 664.6,501.1 665.3,501.9 666.0,498.8 666.7,502.6 667.4,501.2 668.1,501.0 668.7,502.9"/>
<polygon fill="#7aab2f" stroke="none" points="241.1,753.2 241.1,646.4 241.8,663.8 242.5,662.5 243.2,663.1 243.9,674.7 244.6,667.6 245.3,663.8 245.9,685.8 246.6,672.6 247.3,690.8 248.0,679.5 248.7,652.1 249.4,647.9 250.1,637.2 250.8,671.6 251.5,658.5 252.1,661.2 252.8,662.4 253.5,670.5 254.2,673.1 254.9,633.8 255.6,684.2 256.3,668.6 257.0,682.9 257.7,667.2 258.3,631.2 259.0,649.4 259.7,664.3 260.4,668.7 261.1,692.1 261.8,635.9 262.5,662.4 263.2,660.1 263.9,667.4 264.5,678.5 265.2,660.1 265.9,677.3 266.6,673.8 267.3,677.0 268.0,661.1 268.7,633.5 269.4,655.2 270.1,670.3 270.7,651.6 271.4,665.6 272.1,649.2 272.8,645.4 273.5,646.9 274.2,663.6 274.9,638.7 275.6,661.6 276.2,639.3 276.9,644.0 277.6,671.9 277.6,753.2"/>
<polygon fill="#7aab2f" stroke="none" points="553.7,753.2 553.7,656.9 554.4,658.2 555.1,619.2 555.8,652.8 556.5,657.1 557.2,658.1 557.9,677.8 558.6,635.9 559.3,639.6 559.9,652.8 560.6,654.1 561.3,659.3 562.0,652.6 562.7,635.3 563.4,649.2 564.1,641.7 564.8,624.9 565.5,625.3 566.1,615.3 566.8,646.9 567.5,640.5 568.2,638.7 568.9,649.1 569.6,649.5 570.3,665.3 571.0,650.3 571.7,644.1 572.3,659.6 573.0,670.7 573.7,667.0 574.4,680.4 575.1,666.8 575.8,657.8 576.5,647.2 577.2,657.2 577.8,625.6 578.5,609.3 579.2,646.7 579.9,626.8 580.6,644.3 581.3,633.5 582.0,650.6 582.7,639.7 583.4,648.0 583.4,753.2"/>
<polyline stroke="#7aab2f" points="76.6,516.5 77.2,514.2 77.9,517.1 78.6,514.4 79.3,523.7 80.0,515.2 80.7,517.5 81.4,519.5 82.1,515.6 82.8,518.1 83.4,519.8 84.1,522.7 84.8,514.0 85.5,524.3 86.2,518.0 86.9,514.5 87.6,516.6 88.3,519.6 89.0,518.8 89.6,519.6 90.3,517.6 91.0,518.4 91.7,521.2 92.4,521.6 93.1,515.5 93.8,521.2 94.5,520.8 95.1,512.8 95.8,520.1 96.5,521.3 97.2,520.5 97.9,516.4 98.6,519.9 99.3,518.5 100.0,523.6 100.7,519.7 101.3,518.1 102.0,518.1 102.7,514.8 103.4,517.1 104.1,525.1 104.8,522.1 105.5,520.4 106.2,519.1 106.9,518.3 107.5,517.0 108.2,522.5 108.9,523.8 109.6,516.7 110.3,521.0 111.0,524.2 111.7,521.0 112.4,519.8 113.1,521.7 113.7,521.7 114.4,516.5 115.1,521.6 115.8,518.3 116.5,518.6 117.2,520.0 117.9,513.6 118.6,522.5 119.2,513.2 119.9,521.7 120.6,520.1 121.3,518.9 122.0,517.0 122.7,518.1 123.4,520.8 124.1,520.9 124.8,517.4 125.4,516.6 126.1,521.9 126.8,517.7 127.5,519.5 128.2,520.5 128.9,524.1 129.6,524.7 130.3,520.7 131.0,529.1 131.6,523.5 132.3,521.4 133.0,527.0 133.7,518.7 134.4,518.9 135.1,526.2 135.8,524.0 136.5,524.3 137.2,525.6 137.8,525.7 138.5,523.4 139.2,520.4 139.9,524.9 140.6,525.1 141.3,525.2 142.0,527.7 142.7,524.3 143.4,527.7 144.0,529.3 144.7,525.0 145.4,532.2 146.1,528.7 146.8,528.7 147.5,528.2 148.2,532.5 148.9,531.1 149.5,529.1 150.2,527.2 150.9,529.5 151.6,530.1 152.3,532.2 153.0,530.0 153.7,538.5 154.4,528.7 155.1,528.1 155.7,531.3 156.4,534.4 157.1,527.8 157.8,534.2 158.5,528.4 159.2,533.6 159.9,535.5 160.6,534.1 161.3,535.9 161.9,534.6 162.6,532.9 163.3,535.6 164.0,536.6 164.7,535.6 165.4,534.6 166.1,536.2 166.8,534.9 167.5,535.1 168.1,536.4 168.8,535.4 169.5,538.1 170.2,534.8 170.9,537.6 171.6,536.6 172.3,540.4 173.0,545.0 173.6,542.1 174.3,540.9 175.0,540.2 175.7,542.0 176.4,537.2 177.1,547.3 177.8,549.5 178.5,544.3 179.2,546.5 179.8,544.5 180.5,542.6 181.2,535.6 181.9,550.8 182.6,550.4 183.3,547.1 184.0,552.9 184.7,550.7 185.4,543.5 186.0,549.1 186.7,549.5 187.4,545.7 188.1,557.0 188.8,550.5 189.5,551.7 190.2,551.0 190.9,556.5 191.6,554.8 192.2,554.1 192.9,551.3 193.6,557.8 194.3,552.9 195.0,564.7 195.7,554.8 196.4,553.9 197.1,561.6 197.7,559.6 198.4,559.0 199.1,558.4 199.8,555.1 200.5,560.1 201.2,562.5 201.9,563.1 202.6,561.6 203.3,560.0 203.9,562.9 204.6,567.2 205.3,566.8 206.0,569.6 206.7,570.6 207.4,569.5 208.1,570.6 208.8,565.1 209.5,575.0 210.1,569.8 210.8,576.5 211.5,567.9 212.2,571.0 212.9,567.2 213.6,571.6 214.3,580.3 215.0,576.0 215.7,580.4 216.3,581.0 217.0,584.7 217.7,582.2 218.4,581.3 219.1,582.2 219.8,571.6 220.5,588.0 221.2,588.7 221.8,591.9 222.5,595.2 223.2,597.8 223.9,597.9 224.6,601.7 225.3,598.0 226.0,602.0 226.7,612.5 227.4,609.0 228.0,609.2 228.7,615.3 229.4,617.4 230.1,618.8 230.8,616.2 231.5,621.9 232.2,630.0 232.9,628.9 233.6,618.7 234.2,638.8 234.9,627.5 235.6,637.5 236.3,606.8 237.0,753.2 237.7,644.4 238.4,648.5 239.1,753.2 239.8,651.3 240.4,753.2 241.1,753.2 241.8,753.2 242.5,662.5 243.2,753.2 243.9,674.7 244.6,726.6 245.3,663.8 245.9,753.2 246.6,753.2 247.3,690.8 248.0,753.2 248.7,753.2 249.4,647.9 250.1,753.2 250.8,671.6 251.5,658.5 252.1,753.2 252.8,662.4 253.5,670.5 254.2,753.2 254.9,633.8 255.6,753.2 256.3,753.2 257.0,753.2 257.7,753.2 258.3,631.2 259.0,649.4 259.7,753.2 260.4,668.7 261.1,692.1 261.8,753.2 262.5,753.2 263.2,660.1 263.9,753.2 264.5,753.2 265.2,660.1 265.9,753.2 266.6,753.2 267.3,753.2 268.0,661.1 268.7,753.2 269.4,715.1 270.1,753.2 270.7,651.6 271.4,753.2 272.1,649.2 272.8,645.4 273.5,708.3 274.2,753.2 274.9,638.7 275.6,753.2 276.2,639.3 276.9,644.0 277.6,671.9 278.3,680.8 279.0,656.9 279.7,628.7 280.4,652.2 281.1,662.5 281.8,655.3 282.4,641.4 283.1,632.6 283.8,641.9 284.5,628.2 285.2,621.1 285.9,616.1 286.6,614.2 287.3,601.5 288.0,601.4 288.6,603.2 289.3,595.9 290.0,592.5 290.7,599.8 291.4,597.8 292.1,587.1 292.8,576.4 293.5,597.3 294.2,584.3 294.8,573.4 295.5,577.3 296.2,565.5 296.9,564.7 297.6,567.5 298.3,560.8 299.0,554.5 299.7,556.9 300.3,548.8 301.0,547.5 301.7,547.5 302.4,543.0 303.1,543.5 303.8,539.6 304.5,541.6 305.2,532.2 305.9,535.5 306.5,529.5 307.2,525.0 307.9,525.0 308.6,527.5 309.3,525.2 310.0,523.9 310.7,521.2 311.4,522.1 312.1,522.5 312.7,515.9 313.4,514.8 314.1,510.1 314.8,508.0 315.5,512.3 316.2,509.7 316.9,505.0 317.6,502.8 318.3,502.8 318.9,501.2 319.6,502.1 320.3,494.9 321.0,497.0 321.7,493.8 322.4,492.3 323.1,491.8 323.8,488.4 324.4,486.2 325.1,485.8 325.8,484.0 326.5,481.8 327.2,479.8 327.9,478.2 328.6,478.1 329.3,476.4 330.0,474.4 330.6,474.5 331.3,471.6 332.0,469.0 332.7,467.7 333.4,466.1 334.1,463.0 334.8,461.7 335.5,459.6 336.2,458.8 336.8,457.2 337.5,455.9 338.2,453.3 338.9,453.2 339.6,450.7 340.3,447.8 341.0,445.9 341.7,444.8 342.4,443.9 343.0,440.8 343.7,440.0 344.4,437.8 345.1,436.6 345.8,432.8 346.5,431.2 347.2,431.1 347.9,429.5 348.5,426.8 349.2,424.5 349.9,422.2 350.6,421.2 351.3,420.1 352.0,417.1 352.7,415.2 353.4,414.5 354.1,411.7 354.7,409.8 355.4,408.2 356.1,405.5 356.8,403.0 357.5,401.0 358.2,400.2 358.9,398.0 359.6,395.2 360.3,393.7 360.9,391.7 361.6,388.1 362.3,388.8 363.0,385.6 363.7,383.6 364.4,381.1 365.1,378.0 365.8,376.9 366.5,374.8 367.1,372.4 367.8,370.5 368.5,367.9 369.2,364.7 369.9,364.1 370.6,361.6 371.3,359.3 372.0,358.1 372.6,354.5 373.3,352.4 374.0,350.9 374.7,347.8 375.4,345.1 376.1,343.1 376.8,339.8 377.5,338.0 378.2,335.8 378.8,332.3 379.5,330.1 380.2,327.3 380.9,325.4 381.6,322.6 382.3,319.9 383.0,317.0 383.7,314.4 384.4,311.3 385.0,308.7 385.7,306.7 386.4,304.5 387.1,301.7 387.8,300.0 388.5,297.6 389.2,296.1 389.9,294.3 390.6,293.1 391.2,292.2 391.9,290.9 392.6,290.4 393.3,289.5 394.0,288.9 394.7,288.4 395.4,290.0 396.1,289.9 396.8,290.4 397.4,291.6 398.1,292.1 398.8,293.1 399.5,294.4 400.2,296.2 400.9,297.9 401.6,299.8 402.3,302.0 402.9,303.6 403.6,306.0 404.3,308.0 405.0,310.4 405.7,311.9 406.4,314.7 407.1,317.1 407.8,318.8 408.5,321.6 409.1,323.6 409.8,326.2 410.5,328.3 411.2,330.7 411.9,333.9 412.6,334.7 413.3,337.2 414.0,340.5 414.7,341.7 415.3,344.4 416.0,346.4 416.7,348.1 417.4,350.4 418.1,352.6 418.8,354.2 419.5,356.6 420.2,359.3 420.9,361.4 421.5,362.1 422.2,365.1 422.9,366.0 423.6,367.7 424.3,369.5 425.0,370.0 425.7,372.1 426.4,373.9 427.0,374.8 427.7,377.0 428.4,377.5 429.1,378.5 429.8,381.1 430.5,382.6 431.2,383.2 431.9,386.4 432.6,387.3 433.2,388.5 433.9,390.2 434.6,390.6 435.3,391.8 436.0,393.3 436.7,394.6 437.4,395.4 438.1,396.6 438.8,397.8 439.4,400.0 440.1,401.2 440.8,401.6 441.5,403.6 442.2,404.4 442.9,406.9 443.6,408.0 444.3,409.7 445.0,410.7 445.6,411.8 446.3,413.9 447.0,413.7 447.7,417.5 448.4,417.4 449.1,420.2 449.8,420.8 450.5,423.1 451.1,424.1 451.8,425.7 452.5,428.0 453.2,429.9 453.9,431.2 454.6,432.4 455.3,433.5 456.0,434.5 456.7,438.7 457.3,438.7 458.0,441.0 458.7,442.2 459.4,443.6 460.1,444.7 460.8,446.5 461.5,448.3 462.2,448.5 462.9,450.9 463.5,452.5 464.2,452.9 464.9,456.1 465.6,457.2 466.3,456.6 467.0,459.2 467.7,461.8 468.4,460.9 469.1,461.8 469.7,464.7 470.4,466.4 471.1,466.5 471.8,467.4 472.5,469.4 473.2,470.8 473.9,470.8 474.6,472.0 475.2,475.0 475.9,475.7 476.6,476.2 477.3,477.7 478.0,478.1 478.7,479.0 479.4,479.0 480.1,481.5 480.8,482.1 481.4,485.5 482.1,485.9 482.8,485.6 483.5,489.0 484.2,487.7 484.9,489.6 485.6,491.2 486.3,492.7 487.0,495.2 487.6,496.4 488.3,497.1 489.0,498.3 489.7,497.4 490.4,501.8 491.1,502.6 491.8,505.7 492.5,504.2 493.2,505.8 493.8,505.3 494.5,505.1 495.2,509.0 495.9,513.0 496.6,512.3 497.3,513.5 498.0,515.7 498.7,519.3 499.4,517.6 500.0,522.6 500.7,521.4 501.4,523.4 502.1,530.5 502.8,524.0 503.5,521.4 504.2,529.4 504.9,531.6 505.5,528.7 506.2,536.6 506.9,534.2 507.6,535.0 508.3,539.0 509.0,539.0 509.7,543.0 510.4,543.7 511.1,541.0 511.7,547.8 512.4,548.3 513.1,550.3 513.8,547.5 514.5,552.3 515.2,555.7 515.9,552.7 516.6,563.5 517.3,564.8 517.9,557.5 518.6,552.5 519.3,563.9 520.0,562.0 520.7,571.1 521.4,566.1 522.1,567.3 522.8,567.2 523.5,574.9 524.1,563.9 524.8,579.3 525.5,568.9 526.2,583.3 526.9,575.6 527.6,574.4 528.3,571.6 529.0,585.2 529.6,595.1 530.3,583.4 531.0,593.6 531.7,597.3 532.4,596.4 533.1,600.0 533.8,592.0 534.5,597.1 535.2,595.8 535.8,596.3 536.5,605.8 537.2,600.4 537.9,598.4 538.6,595.4 539.3,610.6 540.0,615.6 540.7,622.5 541.4,620.9 542.0,620.7 542.7,621.1 543.4,635.3 544.1,630.3 544.8,626.9 545.5,631.8 546.2,633.7 546.9,627.7 547.6,628.8 548.2,617.8 548.9,631.8 549.6,753.2 550.3,653.2 551.0,635.9 551.7,753.2 552.4,639.4 553.1,650.8 553.7,656.9 554.4,753.2 555.1,753.2 555.8,753.2 556.5,657.1 557.2,753.2 557.9,677.8 558.6,753.2 559.3,639.6 559.9,753.2 560.6,654.1 561.3,753.2 562.0,652.6 562.7,635.3 563.4,753.2 564.1,641.7 564.8,753.2 565.5,625.3 566.1,753.2 566.8,646.9 567.5,640.5 568.2,753.2 568.9,753.2 569.6,753.2 570.3,665.3 571.0,753.2 571.7,644.1 572.3,753.2 573.0,670.7 573.7,753.2 574.4,680.4 575.1,666.8 575.8,657.8 576.5,647.2 577.2,753.2 577.8,753.2 578.5,753.2 579.2,753.2 579.9,626.8 580.6,644.3 581.3,633.5 582.0,753.2 582.7,639.7 583.4,648.0 584.0,753.2 584.7,630.4 585.4,621.0 586.1,631.4 586.8,627.2 587.5,634.2 588.2,625.7 588.9,615.8 589.6,626.8 590.2,618.2 590.9,621.0 591.6,613.6 592.3,606.2 593.0,607.6 593.7,609.4 594.4,611.6 595.1,613.5 595.8,601.5 596.4,590.7 597.1,600.0 597.8,597.3 598.5,598.1 599.2,600.6 599.9,586.7 600.6,587.5 601.3,598.5 601.9,595.9 602.6,580.5 603.3,591.5 604.0,585.8 604.7,589.9 605.4,581.6 606.1,586.3 606.8,584.2 607.5,585.7 608.1,569.3 608.8,564.8 609.5,575.7 610.2,572.4 610.9,571.9 611.6,573.7 612.3,573.1 613.0,573.4 613.7,567.1 614.3,575.5 615.0,572.7 615.7,564.8 616.4,573.4 617.1,559.0 617.8,566.6 618.5,563.7 619.2,557.9 619.9,563.1 620.5,561.5 621.2,563.8 621.9,558.4 622.6,556.9 623.3,562.7 624.0,555.7 624.7,553.7 625.4,555.1 626.1,559.4 626.7,552.1 627.4,549.8 628.1,556.6 628.8,561.2 629.5,556.3 630.2,552.9 630.9,547.5 631.6,547.5 632.2,549.0 632.9,553.5 633.6,547.7 634.3,550.2 635.0,553.5 635.7,555.8 636.4,545.0 637.1,554.2 637.8,543.2 638.4,539.2 639.1,546.7 639.8,549.4 640.5,548.2 641.2,547.9 641.9,543.7 642.6,541.1 643.3,546.8 644.0,544.9 644.6,545.5 645.3,538.9 646.0,539.1 646.7,544.9 647.4,542.6 648.1,540.6 648.8,546.7 649.5,542.2 650.2,539.5 650.8,544.2 651.5,538.6 652.2,538.7 652.9,540.3 653.6,534.8 654.3,540.8 655.0,536.1 655.7,537.9 656.3,533.4 657.0,538.9 657.7,534.3 658.4,534.0 659.1,532.1 659.8,530.4 660.5,539.7 661.2,535.0 661.9,537.8 662.5,531.4 663.2,530.0 663.9,534.7 664.6,532.9 665.3,529.5 666.0,532.6 666.7,533.5 667.4,537.8 668.1,534.9 668.7,529.7"/>
<polygon fill="#68b8dc" stroke="none" points="274.9,753.2 274.9,656.6 275.6,662.3 276.2,639.8 276.9,636.0 277.6,651.2 278.3,655.0 279.0,657.3 279.7,686.1 280.4,629.7 281.1,609.5 281.8,638.9 282.4,641.7 283.1,639.8 283.8,645.0 284.5,662.3 285.2,646.1 285.9,644.9 286.6,633.1 287.3,655.5 288.0,648.2 288.6,693.4 289.3,688.5 290.0,672.3 290.7,686.6 291.4,663.9 292.1,684.2 292.8,653.5 293.5,689.9 294.2,643.3 294.8,648.6 295.5,657.0 296.2,669.7 296.9,642.4 297.6,653.5 298.3,633.4 299.0,680.4 299.7,693.2 300.3,722.9 301.0,693.3 301.7,697.5 302.4,630.1 303.1,651.9 303.8,650.1 304.5,663.0 305.2,625.9 305.9,653.1 306.5,657.6 307.2,638.0 307.9,641.3 308.6,632.6 309.3,635.2 310.0,659.5 310.7,676.6 311.4,679.8 312.1,698.7 312.7,661.3 313.4,658.1 314.1,670.2 314.1,753.2"/>
<polygon fill="#68b8dc" stroke="none" points="587.5,753.2 587.5,676.1 588.2,678.3 588.9,636.0 589.6,663.0 590.2,655.0 590.9,658.8 591.6,659.3 592.3,666.3 593.0,674.5 593.7,688.2 594.4,647.0 595.1,588.5 595.8,639.7 596.4,598.4 597.1,675.3 597.8,662.7 598.5,664.4 599.2,639.7 599.9,667.5 600.6,665.1 601.3,669.6 601.9,695.1 602.6,592.4 603.3,657.7 604.0,643.5 604.7,654.3 605.4,684.0 606.1,682.5 606.8,683.1 607.5,661.9 608.1,657.0 608.8,647.5 609.5,638.3 610.2,648.5 610.9,659.8 611.6,633.2 612.3,645.8 613.0,663.2 613.7,649.4 614.3,661.8 615.0,647.2 615.7,667.4 616.4,646.6 617.1,651.0 617.8,651.1 618.5,654.4 619.2,665.1 619.9,675.7 620.5,664.6 621.2,638.8 621.9,637.8 621.9,753.2"/>
<polyline stroke="#68b8dc" points="76.6,518.7 77.2,515.0 77.9,516.2 78.6,510.8 79.3,512.5 80.0,515.7 80.7,513.8 81.4,514.0 82.1,507.7 82.8,513.0 83.4,512.7 84.1,512.1 84.8,512.8 85.5,513.2 86.2,515.0 86.9,513.0 87.6,512.7 88.3,515.9 89.0,512.9 89.6,515.7 90.3,516.6 91.0,513.1 91.7,511.8 92.4,510.9 93.1,514.1 93.8,515.9 94.5,514.7 95.1,513.3 95.8,513.0 96.5,511.7 97.2,513.1 97.9,510.4 98.6,514.0 99.3,511.6 100.0,511.2 100.7,511.7 101.3,511.4 102.0,514.7 102.7,510.5 103.4,513.4 104.1,512.7 104.8,514.4 105.5,511.4 106.2,513.1 106.9,513.5 107.5,510.6 108.2,513.6 108.9,511.2 109.6,511.5 110.3,510.7 111.0,511.7 111.7,514.2 112.4,511.4 113.1,510.9 113.7,507.7 114.4,507.7 115.1,509.7 115.8,509.5 116.5,516.7 117.2,512.5 117.9,513.6 118.6,510.1 119.2,510.3 119.9,510.3 120.6,510.2 121.3,510.6 122.0,511.6 122.7,512.6 123.4,510.0 124.1,511.5 124.8,509.3 125.4,512.5 126.1,512.2 126.8,513.3 127.5,510.4 128.2,513.5 128.9,516.8 129.6,513.7 130.3,513.5 131.0,512.2 131.6,513.0 132.3,509.7 133.0,511.8 133.7,510.5 134.4,509.7 135.1,510.6 135.8,510.9 136.5,514.0 137.2,512.2 137.8,513.5 138.5,511.7 139.2,514.7 139.9,512.2 140.6,514.9 141.3,512.4 142.0,511.5 142.7,511.8 143.4,515.7 144.0,512.2 144.7,519.3 145.4,515.5 146.1,519.5 146.8,516.7 147.5,520.0 148.2,517.8 148.9,519.8 149.5,515.6 150.2,513.9 150.9,517.6 151.6,517.6 152.3,519.5 153.0,521.4 153.7,522.3 154.4,525.2 155.1,524.8 155.7,521.1 156.4,524.8 157.1,523.1 157.8,527.0 158.5,518.7 159.2,521.6 159.9,525.9 160.6,520.8 161.3,524.9 161.9,523.6 162.6,527.4 163.3,528.6 164.0,523.6 164.7,525.8 165.4,525.8 166.1,525.6 166.8,528.4 167.5,530.3 168.1,528.2 168.8,534.7 169.5,529.6 170.2,526.8 170.9,531.1 171.6,525.1 172.3,532.0 173.0,534.3 173.6,529.7 174.3,532.3 175.0,530.1 175.7,534.3 176.4,530.9 177.1,532.5 177.8,532.4 178.5,530.5 179.2,536.2 179.8,534.6 180.5,530.9 181.2,530.9 181.9,532.8 182.6,539.0 183.3,535.1 184.0,537.3 184.7,537.4 185.4,541.7 186.0,543.9 186.7,534.1 187.4,535.0 188.1,542.9 188.8,539.6 189.5,538.6 190.2,541.1 190.9,537.7 191.6,541.1 192.2,544.9 192.9,542.0 193.6,539.3 194.3,544.5 195.0,539.0 195.7,538.3 196.4,540.2 197.1,540.7 197.7,543.4 198.4,541.5 199.1,546.5 199.8,552.8 200.5,547.2 201.2,539.7 201.9,541.6 202.6,549.8 203.3,547.1 203.9,549.3 204.6,551.5 205.3,548.6 206.0,544.8 206.7,548.0 207.4,549.6 208.1,557.4 208.8,541.0 209.5,554.4 210.1,550.2 210.8,547.5 211.5,550.5 212.2,548.3 212.9,561.4 213.6,556.1 214.3,555.8 215.0,559.0 215.7,560.6 216.3,551.0 217.0,560.5 217.7,551.2 218.4,552.5 219.1,558.4 219.8,563.5 220.5,560.7 221.2,562.0 221.8,562.4 222.5,563.7 223.2,560.8 223.9,563.1 224.6,562.9 225.3,563.5 226.0,558.6 226.7,555.8 227.4,565.8 228.0,567.2 228.7,568.4 229.4,563.9 230.1,566.1 230.8,569.8 231.5,572.0 232.2,569.4 232.9,567.9 233.6,576.3 234.2,572.9 234.9,585.3 235.6,580.4 236.3,575.4 237.0,587.2 237.7,587.9 238.4,579.5 239.1,592.5 239.8,584.5 240.4,572.2 241.1,582.7 241.8,575.7 242.5,577.6 243.2,591.7 243.9,589.4 244.6,587.0 245.3,583.7 245.9,582.6 246.6,587.3 247.3,590.8 248.0,600.1 248.7,588.3 249.4,599.1 250.1,590.5 250.8,589.3 251.5,607.6 252.1,586.9 252.8,601.9 253.5,594.8 254.2,596.7 254.9,591.8 255.6,597.3 256.3,595.3 257.0,601.8 257.7,614.2 258.3,610.2 259.0,604.2 259.7,602.4 260.4,608.4 261.1,623.4 261.8,629.6 262.5,621.5 263.2,600.9 263.9,625.2 264.5,630.7 265.2,624.2 265.9,595.3 266.6,640.9 267.3,663.4 268.0,655.1 268.7,658.0 269.4,629.1 270.1,642.6 270.7,640.2 271.4,650.2 272.1,651.1 272.8,624.7 273.5,639.7 274.2,644.8 274.9,656.6 275.6,662.3 276.2,753.2 276.9,636.0 277.6,651.2 278.3,655.0 279.0,753.2 279.7,686.1 280.4,753.2 281.1,753.2 281.8,753.2 282.4,641.7 283.1,753.2 283.8,645.0 284.5,753.2 285.2,753.2 285.9,753.2 286.6,633.1 287.3,655.5 288.0,753.2 288.6,693.4 289.3,688.5 290.0,753.2 290.7,686.6 291.4,753.2 292.1,684.2 292.8,653.5 293.5,753.2 294.2,643.3 294.8,753.2 295.5,753.2 296.2,669.7 296.9,642.4 297.6,653.5 298.3,633.4 299.0,753.2 299.7,693.2 300.3,753.2 301.0,693.3 301.7,697.5 302.4,753.2 303.1,753.2 303.8,753.2 304.5,753.2 305.2,625.9 305.9,753.2 306.5,753.2 307.2,753.2 307.9,641.3 308.6,753.2 309.3,635.2 310.0,659.5 310.7,676.6 311.4,679.8 312.1,753.2 312.7,661.3 313.4,658.1 314.1,753.2 314.8,651.8 315.5,652.0 316.2,658.6 316.9,647.3 317.6,648.3 318.3,648.2 318.9,626.0 319.6,644.0 320.3,611.0 321.0,620.4 321.7,621.9 322.4,611.7 323.1,617.8 323.8,610.5 324.4,591.6 325.1,598.9 325.8,600.1 326.5,597.4 327.2,588.2 327.9,585.7 328.6,590.5 329.3,579.4 330.0,583.7 330.6,581.3 331.3,574.6 332.0,580.0 332.7,581.7 333.4,572.2 334.1,564.9 334.8,568.3 335.5,560.7 336.2,557.1 336.8,562.0 337.5,558.4 338.2,557.1 338.9,551.9 339.6,550.8 340.3,550.3 341.0,544.0 341.7,546.2 342.4,545.1 343.0,547.3 343.7,542.8 344.4,537.0 345.1,537.8 345.8,538.5 346.5,537.8 347.2,539.2 347.9,537.2 348.5,530.4 349.2,532.2 349.9,530.7 350.6,526.0 351.3,529.6 352.0,528.5 352.7,522.0 353.4,522.9 354.1,527.4 354.7,521.9 355.4,522.5 356.1,520.3 356.8,518.2 357.5,519.9 358.2,516.3 358.9,509.4 359.6,512.1 360.3,511.1 360.9,506.8 361.6,509.5 362.3,505.9 363.0,501.7 363.7,502.3 364.4,500.2 365.1,499.4 365.8,497.0 366.5,495.0 367.1,494.5 367.8,492.6 368.5,490.8 369.2,491.3 369.9,487.0 370.6,484.6 371.3,483.9 372.0,482.9 372.6,481.9 373.3,479.6 374.0,476.6 374.7,475.5 375.4,475.9 376.1,472.4 376.8,472.9 377.5,471.3 378.2,469.3 378.8,467.1 379.5,466.4 380.2,463.8 380.9,462.9 381.6,460.3 382.3,461.3 383.0,458.5 383.7,456.6 384.4,454.3 385.0,455.9 385.7,452.8 386.4,452.7 387.1,449.2 387.8,448.5 388.5,446.3 389.2,444.3 389.9,442.9 390.6,442.2 391.2,440.0 391.9,436.6 392.6,437.8 393.3,435.5 394.0,434.7 394.7,432.2 395.4,431.9 396.1,429.2 396.8,429.2 397.4,426.4 398.1,423.1 398.8,424.2 399.5,422.2 400.2,419.5 400.9,419.3 401.6,418.6 402.3,416.5 402.9,413.6 403.6,411.3 404.3,410.4 405.0,408.8 405.7,406.5 406.4,405.7 407.1,403.1 407.8,401.4 408.5,401.0 409.1,398.4 409.8,397.1 410.5,396.0 411.2,394.3 411.9,392.0 412.6,391.7 413.3,390.3 414.0,386.9 414.7,384.8 415.3,384.1 416.0,381.9 416.7,381.7 417.4,379.8 418.1,377.6 418.8,375.7 419.5,373.6 420.2,372.2 420.9,370.1 421.5,368.3 422.2,366.0 422.9,363.9 423.6,362.1 424.3,359.9 425.0,358.7 425.7,356.9 426.4,355.6 427.0,353.3 427.7,349.9 428.4,347.8 429.1,345.7 429.8,343.5 430.5,341.6 431.2,339.7 431.9,336.6 432.6,334.0 433.2,332.6 433.9,328.5 434.6,326.9 435.3,323.9 436.0,321.1 436.7,318.5 437.4,316.7 438.1,313.8 438.8,311.4 439.4,309.3 440.1,306.7 440.8,304.8 441.5,302.1 442.2,300.3 442.9,298.1 443.6,295.9 444.3,293.6 445.0,292.2 445.6,290.8 446.3,289.7 447.0,287.7 447.7,287.9 448.4,286.8 449.1,286.9 449.8,285.9 450.5,286.4 451.1,286.6 451.8,286.8 452.5,287.2 453.2,288.7 453.9,289.6 454.6,291.0 455.3,292.8 456.0,294.5 456.7,296.3 457.3,298.8 458.0,301.1 458.7,303.4 459.4,305.5 460.1,308.3 460.8,310.4 461.5,313.8 462.2,315.5 462.9,318.7 463.5,321.0 464.2,322.7 464.9,325.7 465.6,328.9 466.3,331.4 467.0,333.4 467.7,335.8 468.4,338.7 469.1,340.8 469.7,343.8 470.4,347.3 471.1,347.9 471.8,351.0 472.5,352.8 473.2,355.3 473.9,357.4 474.6,359.8 475.2,360.9 475.9,362.9 476.6,364.6 477.3,366.9 478.0,368.9 478.7,371.4 479.4,373.0 480.1,374.7 480.8,378.2 481.4,379.3 482.1,380.6 482.8,381.8 483.5,383.3 484.2,384.9 484.9,388.2 485.6,389.4 486.3,391.6 487.0,393.5 487.6,394.9 488.3,396.4 489.0,397.6 489.7,400.8 490.4,401.6 491.1,403.9 491.8,403.9 492.5,405.4 493.2,408.5 493.8,410.3 494.5,411.0 495.2,412.4 495.9,415.4 496.6,416.6 497.3,417.6 498.0,420.2 498.7,419.9 499.4,422.5 500.0,424.1 500.7,426.6 501.4,426.3 502.1,429.8 502.8,430.9 503.5,432.3 504.2,433.5 504.9,436.0 505.5,437.1 506.2,437.5 506.9,439.5 507.6,440.9 508.3,441.7 509.0,443.6 509.7,444.5 510.4,446.8 511.1,448.9 511.7,448.2 512.4,452.4 513.1,453.5 513.8,454.6 514.5,453.0 515.2,456.3 515.9,456.8 516.6,460.4 517.3,461.3 517.9,461.4 518.6,463.5 519.3,464.3 520.0,465.3 520.7,467.1 521.4,468.5 522.1,469.8 522.8,471.7 523.5,472.6 524.1,473.4 524.8,476.6 525.5,476.9 526.2,477.7 526.9,480.2 527.6,481.5 528.3,481.1 529.0,483.3 529.6,483.6 530.3,485.5 531.0,489.1 531.7,491.0 532.4,492.1 533.1,492.3 533.8,499.1 534.5,496.4 535.2,496.5 535.8,499.7 536.5,501.0 537.2,503.6 537.9,507.8 538.6,505.0 539.3,509.1 540.0,509.4 540.7,512.2 541.4,509.8 542.0,514.9 542.7,516.9 543.4,520.0 544.1,523.8 544.8,522.7 545.5,522.7 546.2,527.7 546.9,536.1 547.6,534.1 548.2,527.7 548.9,537.7 549.6,537.3 550.3,546.5 551.0,544.1 551.7,547.2 552.4,543.2 553.1,545.9 553.7,548.2 554.4,548.3 555.1,556.5 555.8,549.4 556.5,559.7 557.2,556.7 557.9,553.2 558.6,567.3 559.3,565.2 559.9,569.6 560.6,570.4 561.3,571.5 562.0,575.5 562.7,577.0 563.4,575.3 564.1,588.3 564.8,587.2 565.5,587.9 566.1,595.0 566.8,587.1 567.5,593.9 568.2,598.3 568.9,603.5 569.6,602.7 570.3,596.4 571.0,609.4 571.7,597.0 572.3,600.4 573.0,604.1 573.7,619.5 574.4,614.5 575.1,600.9 575.8,612.5 576.5,616.6 577.2,617.4 577.8,617.9 578.5,637.8 579.2,616.2 579.9,624.5 580.6,641.1 581.3,628.9 582.0,660.2 582.7,649.2 583.4,641.1 584.0,753.2 584.7,753.2 585.4,668.8 586.1,753.2 586.8,665.0 587.5,753.2 588.2,678.3 588.9,753.2 589.6,663.0 590.2,753.2 590.9,658.8 591.6,753.2 592.3,666.3 593.0,753.2 593.7,753.2 594.4,647.0 595.1,588.5 595.8,639.7 596.4,753.2 597.1,675.3 597.8,753.2 598.5,753.2 599.2,753.2 599.9,667.5 600.6,665.1 601.3,753.2 601.9,695.1 602.6,592.4 603.3,753.2 604.0,753.2 604.7,753.2 605.4,684.0 606.1,753.2 606.8,683.1 607.5,753.2 608.1,657.0 608.8,753.2 609.5,638.3 610.2,648.5 610.9,659.8 611.6,753.2 612.3,645.8 613.0,753.2 613.7,649.4 614.3,753.2 615.0,753.2 615.7,667.4 616.4,646.6 617.1,651.0 617.8,651.1 618.5,654.4 619.2,753.2 619.9,675.7 620.5,753.2 621.2,638.8 621.9,753.2 622.6,649.8 623.3,632.6 624.0,648.0 624.7,636.1 625.4,635.3 626.1,630.9 626.7,624.6 627.4,635.1 628.1,628.0 628.8,629.6 629.5,635.9 630.2,613.0 630.9,609.5 631.6,621.3 632.2,622.8 632.9,613.9 633.6,597.0 634.3,611.8 635.0,609.3 635.7,601.9 636.4,613.4 637.1,611.3 637.8,603.5 638.4,596.0 639.1,602.4 639.8,603.4 640.5,608.7 641.2,587.3 641.9,603.9 642.6,587.1 643.3,598.5 644.0,586.3 644.6,582.1 645.3,596.6 646.0,587.0 646.7,585.2 647.4,581.3 648.1,589.5 648.8,579.7 649.5,585.3 650.2,590.6 650.8,578.5 651.5,576.2 652.2,582.4 652.9,582.1 653.6,576.4 654.3,570.7 655.0,585.5 655.7,572.4 656.3,566.6 657.0,581.0 657.7,572.7 658.4,574.6 659.1,572.3 659.8,567.1 660.5,580.7 661.2,574.5 661.9,578.1 662.5,572.1 663.2,560.8 663.9,574.3 664.6,570.9 665.3,570.9 666.0,565.5 666.7,568.4 667.4,570.0 668.1,569.4 668.7,566.1"/>
<polygon fill="#9c2233" stroke="none" points="344.4,753.2 344.4,639.8 345.1,672.7 345.8,664.5 346.5,646.3 347.2,657.4 347.9,670.9 348.5,662.5 349.2,681.6 349.9,683.9 350.6,669.4 351.3,672.2 352.0,661.4 352.7,633.5 353.4,654.3 354.1,632.2 354.7,670.2 355.4,663.7 356.1,670.7 356.8,669.2 357.5,687.0 358.2,690.3 358.9,686.5 359.6,667.2 360.3,673.0 360.9,672.5 361.6,684.4 362.3,665.0 363.0,678.8 363.7,694.1 364.4,685.5 365.1,682.9 365.8,672.2 366.5,695.6 367.1,688.4 367.8,663.2 368.5,656.6 368.5,753.2"/>
<polygon fill="#9c2233" stroke="none" points="650.2,753.2 650.2,640.5 650.8,646.9 651.5,638.2 652.2,647.8 652.9,641.6 653.6,653.5 654.3,659.0 655.0,644.0 655.7,643.6 656.3,616.6 657.0,624.0 657.7,645.6 658.4,648.1 659.1,648.5 659.8,633.8 660.5,667.0 661.2,684.8 661.9,668.4 662.5,686.4 663.2,663.1 663.9,666.8 664.6,676.9 665.3,676.4 666.0,647.0 666.7,641.5 667.4,641.9 668.1,656.3 668.7,638.7 668.7,753.2"/>
<polyline stroke="#9c2233" points="76.6,551.3 77.2,555.9 77.9,558.1 78.6,551.1 79.3,545.3 80.0,551.9 80.7,549.1 81.4,548.1 82.1,548.3 82.8,553.9 83.4,546.7 84.1,545.8 84.8,550.4 85.5,545.3 86.2,549.3 86.9,549.7 87.6,548.4 88.3,540.6 89.0,540.8 89.6,543.0 90.3,537.1 91.0,545.1 91.7,538.8 92.4,543.0 93.1,548.2 93.8,537.6 94.5,539.0 95.1,544.4 95.8,540.3 96.5,537.0 97.2,539.3 97.9,535.1 98.6,542.3 99.3,529.7 100.0,536.9 100.7,538.5 101.3,537.4 102.0,537.5 102.7,540.1 103.4,538.2 104.1,533.7 104.8,531.4 105.5,537.3 106.2,532.0 106.9,534.2 107.5,525.7 108.2,530.3 108.9,529.6 109.6,530.5 110.3,529.8 111.0,531.6 111.7,532.9 112.4,525.5 113.1,525.9 113.7,526.5 114.4,532.5 115.1,529.2 115.8,526.9 116.5,528.3 117.2,533.4 117.9,528.2 118.6,531.6 119.2,530.7 119.9,525.8 120.6,535.9 121.3,523.7 122.0,529.5 122.7,527.8 123.4,526.7 124.1,527.0 124.8,526.4 125.4,527.6 126.1,524.9 126.8,528.0 127.5,525.1 128.2,524.6 128.9,525.1 129.6,521.0 130.3,524.4 131.0,525.2 131.6,517.9 132.3,519.6 133.0,521.6 133.7,523.7 134.4,518.8 135.1,521.7 135.8,522.8 136.5,522.6 137.2,519.8 137.8,521.2 138.5,523.4 139.2,527.2 139.9,519.7 140.6,521.3 141.3,519.3 142.0,520.7 142.7,518.7 143.4,519.8 144.0,521.0 144.7,521.3 145.4,525.4 146.1,524.4 146.8,515.4 147.5,522.6 148.2,522.0 148.9,515.2 149.5,519.5 150.2,524.9 150.9,526.2 151.6,524.1 152.3,520.9 153.0,517.7 153.7,518.6 154.4,520.9 155.1,517.6 155.7,523.0 156.4,520.4 157.1,516.8 157.8,512.7 158.5,521.1 159.2,521.9 159.9,518.9 160.6,518.8 161.3,517.5 161.9,518.0 162.6,515.4 163.3,514.7 164.0,517.7 164.7,521.7 165.4,519.9 166.1,518.9 166.8,519.8 167.5,516.4 168.1,517.6 168.8,518.6 169.5,519.2 170.2,517.0 170.9,521.1 171.6,522.2 172.3,520.4 173.0,521.8 173.6,520.6 174.3,525.3 175.0,519.5 175.7,521.0 176.4,517.5 177.1,516.9 177.8,517.9 178.5,523.1 179.2,518.8 179.8,518.6 180.5,522.0 181.2,518.2 181.9,521.4 182.6,523.1 183.3,518.5 184.0,520.8 184.7,514.5 185.4,519.2 186.0,521.1 186.7,519.6 187.4,520.1 188.1,520.6 188.8,522.6 189.5,522.5 190.2,516.8 190.9,522.8 191.6,516.8 192.2,523.1 192.9,519.2 193.6,521.4 194.3,518.0 195.0,521.4 195.7,521.7 196.4,523.3 197.1,521.5 197.7,520.7 198.4,520.1 199.1,523.0 199.8,522.8 200.5,523.2 201.2,528.3 201.9,522.4 202.6,526.3 203.3,523.1 203.9,524.8 204.6,524.7 205.3,523.7 206.0,526.9 206.7,523.7 207.4,519.7 208.1,519.7 208.8,519.2 209.5,521.0 210.1,523.0 210.8,519.1 211.5,524.4 212.2,522.0 212.9,523.0 213.6,524.1 214.3,527.0 215.0,524.0 215.7,519.9 216.3,524.2 217.0,526.1 217.7,524.8 218.4,526.6 219.1,525.9 219.8,528.2 220.5,524.1 221.2,527.4 221.8,527.1 222.5,527.1 223.2,531.7 223.9,523.4 224.6,522.9 225.3,529.9 226.0,521.0 226.7,528.5 227.4,530.3 228.0,528.5 228.7,528.4 229.4,531.6 230.1,529.1 230.8,534.5 231.5,528.8 232.2,533.3 232.9,536.2 233.6,532.2 234.2,536.3 234.9,529.8 235.6,528.3 236.3,536.9 237.0,535.2 237.7,537.6 238.4,537.9 239.1,537.3 239.8,535.0 240.4,539.5 241.1,532.7 241.8,528.2 242.5,538.8 243.2,535.8 243.9,537.8 244.6,544.5 245.3,542.9 245.9,530.9 246.6,537.1 247.3,531.8 248.0,537.0 248.7,534.6 249.4,534.0 250.1,539.5 250.8,533.4 251.5,533.8 252.1,539.4 252.8,538.5 253.5,542.8 254.2,533.7 254.9,542.6 255.6,539.4 256.3,541.8 257.0,541.6 257.7,537.2 258.3,540.0 259.0,537.0 259.7,541.3 260.4,537.6 261.1,545.7 261.8,544.9 262.5,554.8 263.2,538.6 263.9,539.6 264.5,548.6 265.2,547.6 265.9,544.8 266.6,548.7 267.3,540.4 268.0,539.1 268.7,545.1 269.4,545.4 270.1,547.8 270.7,552.4 271.4,553.7 272.1,551.1 272.8,549.2 273.5,544.6 274.2,552.4 274.9,548.6 275.6,542.9 276.2,543.6 276.9,547.5 277.6,548.2 278.3,562.3 279.0,554.9 279.7,552.4 280.4,554.0 281.1,551.3 281.8,550.8 282.4,553.3 283.1,560.6 283.8,558.7 284.5,561.3 285.2,553.2 285.9,556.8 286.6,553.4 287.3,558.9 288.0,564.9 288.6,561.5 289.3,566.0 290.0,568.7 290.7,570.2 291.4,559.1 292.1,565.5 292.8,569.8 293.5,568.3 294.2,566.3 294.8,567.6 295.5,568.9 296.2,570.9 296.9,565.1 297.6,571.4 298.3,561.3 299.0,575.3 299.7,585.4 300.3,576.7 301.0,570.2 301.7,572.1 302.4,570.9 303.1,571.0 303.8,566.5 304.5,579.1 305.2,571.1 305.9,576.7 306.5,579.5 307.2,570.6 307.9,572.0 308.6,589.2 309.3,576.3 310.0,577.6 310.7,590.1 311.4,588.2 312.1,586.2 312.7,587.0 313.4,581.0 314.1,580.9 314.8,596.6 315.5,605.8 316.2,596.0 316.9,589.9 317.6,591.3 318.3,586.1 318.9,587.8 319.6,589.8 320.3,605.4 321.0,591.0 321.7,607.1 322.4,591.7 323.1,597.6 323.8,601.7 324.4,601.9 325.1,604.5 325.8,611.1 326.5,621.0 327.2,606.9 327.9,610.6 328.6,612.0 329.3,620.2 330.0,613.0 330.6,627.2 331.3,635.0 332.0,618.1 332.7,629.6 333.4,634.9 334.1,635.3 334.8,620.4 335.5,631.5 336.2,640.5 336.8,619.1 337.5,648.4 338.2,643.5 338.9,658.3 339.6,649.7 340.3,651.7 341.0,672.5 341.7,753.2 342.4,675.7 343.0,753.2 343.7,640.4 344.4,639.8 345.1,753.2 345.8,664.5 346.5,753.2 347.2,657.4 347.9,753.2 348.5,662.5 349.2,731.9 349.9,753.2 350.6,669.4 351.3,753.2 352.0,661.4 352.7,753.2 353.4,654.3 354.1,632.2 354.7,670.2 355.4,753.2 356.1,670.7 356.8,753.2 357.5,687.0 358.2,753.2 358.9,753.2 359.6,753.2 360.3,753.2 360.9,672.5 361.6,684.4 362.3,665.0 363.0,753.2 363.7,694.1 364.4,685.5 365.1,753.2 365.8,672.2 366.5,695.6 367.1,688.4 367.8,753.2 368.5,656.6 369.2,669.8 369.9,658.0 370.6,645.0 371.3,657.2 372.0,656.2 372.6,664.7 373.3,653.9 374.0,633.2 374.7,610.8 375.4,628.4 376.1,637.8 376.8,641.9 377.5,626.1 378.2,623.2 378.8,620.6 379.5,606.1 380.2,604.6 380.9,609.5 381.6,609.3 382.3,605.7 383.0,607.1 383.7,596.9 384.4,612.7 385.0,595.5 385.7,596.8 386.4,599.1 387.1,605.3 387.8,592.3 388.5,599.1 389.2,598.0 389.9,590.2 390.6,589.0 391.2,586.2 391.9,588.5 392.6,582.9 393.3,571.5 394.0,578.9 394.7,581.7 395.4,579.2 396.1,576.2 396.8,563.9 397.4,566.6 398.1,560.2 398.8,563.2 399.5,555.5 400.2,569.1 400.9,566.1 401.6,556.4 402.3,553.2 402.9,558.1 403.6,553.1 404.3,551.6 405.0,545.5 405.7,549.4 406.4,548.4 407.1,544.8 407.8,543.9 408.5,538.9 409.1,537.8 409.8,533.3 410.5,536.0 411.2,533.7 411.9,533.4 412.6,523.1 413.3,529.6 414.0,524.1 414.7,522.6 415.3,524.9 416.0,518.7 416.7,517.8 417.4,518.9 418.1,518.8 418.8,514.5 419.5,512.9 420.2,512.1 420.9,510.0 421.5,505.7 422.2,506.1 422.9,504.7 423.6,501.0 424.3,497.5 425.0,499.1 425.7,497.4 426.4,492.6 427.0,494.8 427.7,491.1 428.4,487.8 429.1,487.5 429.8,486.3 430.5,484.1 431.2,481.8 431.9,481.5 432.6,479.3 433.2,478.2 433.9,475.8 434.6,474.5 435.3,473.9 436.0,472.0 436.7,470.3 437.4,467.9 438.1,467.7 438.8,467.0 439.4,464.9 440.1,461.8 440.8,461.1 441.5,459.7 442.2,460.7 442.9,456.5 443.6,456.4 444.3,455.3 445.0,454.1 445.6,452.3 446.3,453.1 447.0,449.2 447.7,449.7 448.4,445.7 449.1,445.4 449.8,444.7 450.5,443.4 451.1,441.3 451.8,438.3 452.5,437.9 453.2,436.2 453.9,435.3 454.6,431.8 455.3,431.6 456.0,430.2 456.7,427.8 457.3,426.8 458.0,424.8 458.7,424.2 459.4,422.4 460.1,419.1 460.8,418.3 461.5,415.6 462.2,413.9 462.9,412.0 463.5,410.2 464.2,408.1 464.9,407.2 465.6,405.5 466.3,402.7 467.0,402.3 467.7,400.3 468.4,398.6 469.1,396.4 469.7,393.2 470.4,391.3 471.1,390.5 471.8,389.1 472.5,386.8 473.2,384.2 473.9,381.4 474.6,380.5 475.2,377.8 475.9,375.9 476.6,375.1 477.3,371.6 478.0,369.5 478.7,367.8 479.4,366.1 480.1,363.3 480.8,361.5 481.4,359.6 482.1,357.3 482.8,354.7 483.5,353.7 484.2,351.0 484.9,348.7 485.6,345.9 486.3,343.5 487.0,341.2 487.6,338.5 488.3,336.1 489.0,332.9 489.7,330.4 490.4,328.3 491.1,325.6 491.8,323.1 492.5,320.6 493.2,317.4 493.8,314.6 494.5,313.0 495.2,310.1 495.9,306.7 496.6,304.0 497.3,302.4 498.0,300.1 498.7,298.0 499.4,294.9 500.0,293.1 500.7,291.3 501.4,290.0 502.1,288.3 502.8,287.7 503.5,286.1 504.2,285.9 504.9,285.0 505.5,284.8 506.2,285.2 506.9,285.9 507.6,285.9 508.3,286.9 509.0,288.7 509.7,288.9 510.4,291.3 511.1,292.4 511.7,294.4 512.4,296.8 513.1,299.3 513.8,301.4 514.5,303.1 515.2,306.1 515.9,308.4 516.6,310.9 517.3,313.7 517.9,316.4 518.6,319.0 519.3,321.3 520.0,323.4 520.7,326.4 521.4,329.0 522.1,330.7 522.8,333.3 523.5,336.0 524.1,338.6 524.8,341.0 525.5,343.2 526.2,345.9 526.9,348.0 527.6,350.7 528.3,352.5 529.0,355.8 529.6,357.7 530.3,358.4 531.0,360.4 531.7,363.5 532.4,365.6 533.1,366.4 533.8,369.0 534.5,370.7 535.2,371.9 535.8,374.2 536.5,376.3 537.2,377.4 537.9,381.0 538.6,382.2 539.3,381.8 540.0,384.9 540.7,386.2 541.4,389.4 542.0,389.4 542.7,393.1 543.4,393.7 544.1,395.5 544.8,398.0 545.5,398.7 546.2,402.8 546.9,401.9 547.6,404.1 548.2,406.1 548.9,408.3 549.6,409.8 550.3,411.3 551.0,412.8 551.7,413.7 552.4,416.3 553.1,417.3 553.7,419.7 554.4,418.4 555.1,421.1 555.8,424.9 556.5,424.0 557.2,424.1 557.9,427.4 558.6,428.7 559.3,430.2 559.9,430.6 560.6,431.9 561.3,434.9 562.0,438.1 562.7,438.1 563.4,440.9 564.1,442.2 564.8,441.7 565.5,444.1 566.1,445.6 566.8,446.3 567.5,447.4 568.2,450.2 568.9,449.6 569.6,452.9 570.3,452.9 571.0,455.1 571.7,456.3 572.3,457.7 573.0,457.9 573.7,459.3 574.4,461.4 575.1,461.7 575.8,465.2 576.5,465.0 577.2,467.9 577.8,470.5 578.5,470.9 579.2,470.0 579.9,472.2 580.6,473.4 581.3,475.6 582.0,476.8 582.7,478.6 583.4,479.0 584.0,480.0 584.7,481.5 585.4,482.9 586.1,484.4 586.8,485.5 587.5,486.3 588.2,489.1 588.9,489.2 589.6,489.9 590.2,494.0 590.9,494.9 591.6,495.8 592.3,498.3 593.0,499.1 593.7,500.8 594.4,498.9 595.1,502.5 595.8,502.0 596.4,506.5 597.1,507.8 597.8,509.7 598.5,511.6 599.2,507.2 599.9,511.7 600.6,515.8 601.3,522.8 601.9,520.7 602.6,519.0 603.3,522.3 604.0,525.7 604.7,524.4 605.4,527.6 606.1,532.5 606.8,531.4 607.5,531.5 608.1,533.2 608.8,538.0 609.5,541.3 610.2,541.4 610.9,540.9 611.6,543.7 612.3,542.4 613.0,549.9 613.7,550.6 614.3,553.0 615.0,552.4 615.7,560.5 616.4,552.2 617.1,560.8 617.8,555.1 618.5,556.6 619.2,571.5 619.9,565.7 620.5,566.0 621.2,570.7 621.9,569.4 622.6,578.5 623.3,571.0 624.0,576.4 624.7,580.8 625.4,595.1 626.1,578.8 626.7,593.1 627.4,578.7 628.1,582.6 628.8,598.3 629.5,601.2 630.2,591.6 630.9,587.9 631.6,596.2 632.2,597.2 632.9,599.3 633.6,590.1 634.3,599.1 635.0,612.8 635.7,600.4 636.4,604.9 637.1,614.7 637.8,617.9 638.4,598.7 639.1,606.4 639.8,614.2 640.5,603.5 641.2,622.8 641.9,623.1 642.6,637.8 643.3,627.5 644.0,605.7 644.6,645.3 645.3,644.3 646.0,624.8 646.7,631.4 647.4,617.2 648.1,611.2 648.8,632.4 649.5,753.2 650.2,753.2 650.8,753.2 651.5,753.2 652.2,753.2 652.9,753.2 653.6,653.5 654.3,753.2 655.0,753.2 655.7,643.6 656.3,705.8 657.0,624.0 657.7,645.6 658.4,753.2 659.1,648.5 659.8,753.2 660.5,667.0 661.2,753.2 661.9,668.4 662.5,753.2 663.2,663.1 663.9,666.8 664.6,753.2 665.3,753.2 666.0,753.2 666.7,753.2 667.4,641.9 668.1,753.2 668.7,753.2"/>
<polygon fill="#2f72b5" stroke="none" points="368.5,753.2 368.5,678.3 369.2,670.3 369.9,683.8 370.6,679.2 371.3,680.9 372.0,683.1 372.6,680.9 373.3,684.7 374.0,700.9 374.7,690.2 375.4,672.9 376.1,705.1 376.8,690.2 377.5,694.3 378.2,696.9 378.8,651.3 379.5,668.6 380.2,654.2 380.9,657.1 381.6,676.4 382.3,727.1 383.0,706.6 383.7,700.1 384.4,702.6 385.0,632.8 385.7,658.6 386.4,658.5 387.1,660.7 387.8,687.2 388.5,683.3 389.2,693.0 389.9,703.9 390.6,667.0 391.2,678.9 391.9,668.6 392.6,675.9 393.3,676.7 394.0,659.6 394.7,657.6 395.4,648.2 396.1,704.6 396.8,697.7 397.4,706.9 398.1,696.3 398.8,704.7 399.5,674.2 400.2,674.2 400.9,688.6 401.6,691.0 402.3,665.4 402.9,682.9 403.6,675.4 404.3,666.5 404.3,753.2"/>
<polyline stroke="#2f72b5" points="76.6,602.5 77.2,591.3 77.9,604.4 78.6,600.5 79.3,587.0 80.0,586.8 80.7,592.2 81.4,596.2 82.1,590.0 82.8,591.3 83.4,577.6 84.1,571.7 84.8,589.0 85.5,580.9 86.2,579.6 86.9,577.6 87.6,577.6 88.3,573.8 89.0,589.1 89.6,579.0 90.3,578.6 91.0,576.2 91.7,579.7 92.4,574.9 93.1,573.3 93.8,567.7 94.5,567.5 95.1,573.4 95.8,573.0 96.5,573.9 97.2,568.0 97.9,567.1 98.6,566.0 99.3,559.2 100.0,560.9 100.7,557.0 101.3,558.6 102.0,557.2 102.7,553.9 103.4,552.9 104.1,545.6 104.8,555.6 105.5,556.8 106.2,561.1 106.9,548.9 107.5,545.2 108.2,551.1 108.9,551.9 109.6,553.4 110.3,549.0 111.0,557.8 111.7,544.6 112.4,549.8 113.1,544.2 113.7,538.9 114.4,551.0 115.1,545.4 115.8,546.9 116.5,546.4 117.2,538.8 117.9,538.3 118.6,538.9 119.2,538.7 119.9,541.2 120.6,538.6 121.3,536.1 122.0,535.5 122.7,539.1 123.4,535.9 124.1,539.0 124.8,541.2 125.4,529.8 126.1,535.4 126.8,535.1 127.5,537.0 128.2,533.9 128.9,535.4 129.6,531.2 130.3,528.5 131.0,534.2 131.6,534.8 132.3,532.1 133.0,531.1 133.7,532.4 134.4,535.1 135.1,529.6 135.8,529.9 136.5,530.1 137.2,531.3 137.8,529.2 138.5,529.6 139.2,531.2 139.9,528.2 140.6,528.8 141.3,526.9 142.0,528.3 142.7,526.2 143.4,531.5 144.0,527.0 144.7,531.2 145.4,522.1 146.1,526.5 146.8,524.7 147.5,526.6 148.2,525.0 148.9,524.8 149.5,526.1 150.2,529.2 150.9,527.1 151.6,523.9 152.3,522.8 153.0,525.4 153.7,526.1 154.4,524.2 155.1,525.4 155.7,522.4 156.4,528.8 157.1,526.5 157.8,520.9 158.5,522.6 159.2,516.9 159.9,525.4 160.6,519.4 161.3,521.9 161.9,518.0 162.6,518.3 163.3,524.6 164.0,523.8 164.7,523.1 165.4,515.5 166.1,520.0 166.8,524.5 167.5,525.8 168.1,520.1 168.8,520.5 169.5,522.2 170.2,520.3 170.9,525.2 171.6,520.5 172.3,519.8 173.0,519.7 173.6,522.2 174.3,520.0 175.0,521.4 175.7,526.0 176.4,526.1 177.1,518.1 177.8,522.7 178.5,518.3 179.2,522.1 179.8,518.6 180.5,516.4 181.2,514.1 181.9,520.2 182.6,515.4 183.3,518.4 184.0,527.2 184.7,525.3 185.4,517.8 186.0,516.1 186.7,519.7 187.4,519.2 188.1,520.7 188.8,520.7 189.5,516.0 190.2,519.2 190.9,520.2 191.6,517.2 192.2,520.1 192.9,517.8 193.6,519.5 194.3,517.5 195.0,518.9 195.7,522.4 196.4,515.9 197.1,516.3 197.7,518.1 198.4,519.4 199.1,515.2 199.8,520.3 200.5,517.3 201.2,516.9 201.9,516.7 202.6,518.7 203.3,519.1 203.9,513.7 204.6,520.2 205.3,522.6 206.0,521.9 206.7,518.3 207.4,520.4 208.1,516.6 208.8,515.9 209.5,522.9 210.1,522.9 210.8,519.4 211.5,518.3 212.2,521.9 212.9,520.1 213.6,523.5 214.3,517.5 215.0,515.8 215.7,518.6 216.3,518.3 217.0,517.8 217.7,516.3 218.4,516.8 219.1,517.8 219.8,517.4 220.5,522.9 221.2,518.5 221.8,521.7 222.5,518.9 223.2,520.1 223.9,520.2 224.6,519.2 225.3,520.3 226.0,521.8 226.7,516.5 227.4,521.2 228.0,520.5 228.7,522.7 229.4,523.8 230.1,524.5 230.8,522.6 231.5,523.1 232.2,521.7 232.9,524.7 233.6,520.6 234.2,521.6 234.9,530.7 235.6,528.6 236.3,526.1 237.0,524.8 237.7,524.0 238.4,524.5 239.1,526.6 239.8,521.4 240.4,529.7 241.1,527.6 241.8,528.4 242.5,526.3 243.2,525.9 243.9,527.0 244.6,526.0 245.3,527.4 245.9,524.0 246.6,529.3 247.3,529.4 248.0,526.5 248.7,527.2 249.4,527.2 250.1,528.5 250.8,532.6 251.5,528.0 252.1,531.2 252.8,527.1 253.5,528.4 254.2,529.3 254.9,531.0 255.6,527.1 256.3,530.2 257.0,534.4 257.7,527.5 258.3,525.1 259.0,528.0 259.7,529.9 260.4,533.5 261.1,532.2 261.8,529.3 262.5,529.1 263.2,531.5 263.9,528.9 264.5,526.6 265.2,532.1 265.9,530.5 266.6,531.0 267.3,530.9 268.0,529.1 268.7,535.0 269.4,536.7 270.1,535.0 270.7,535.6 271.4,536.1 272.1,531.9 272.8,531.7 273.5,537.4 274.2,541.9 274.9,541.3 275.6,535.7 276.2,536.0 276.9,539.5 277.6,535.9 278.3,533.3 279.0,536.5 279.7,535.0 280.4,543.5 281.1,535.7 281.8,539.5 282.4,537.5 283.1,543.2 283.8,540.9 284.5,541.6 285.2,542.4 285.9,538.9 286.6,540.4 287.3,540.3 288.0,536.3 288.6,538.8 289.3,539.5 290.0,538.9 290.7,540.8 291.4,538.0 292.1,540.3 292.8,543.7 293.5,543.6 294.2,540.8 294.8,546.1 295.5,543.8 296.2,544.2 296.9,545.4 297.6,545.4 298.3,543.7 299.0,541.9 299.7,539.5 300.3,544.8 301.0,544.3 301.7,543.8 302.4,553.7 303.1,552.9 303.8,545.8 304.5,547.7 305.2,551.6 305.9,547.4 306.5,553.4 307.2,555.7 307.9,550.4 308.6,550.8 309.3,550.1 310.0,542.3 310.7,555.7 311.4,551.0 312.1,557.3 312.7,556.0 313.4,556.2 314.1,550.2 314.8,558.2 315.5,564.9 316.2,570.3 316.9,553.4 317.6,558.9 318.3,555.2 318.9,561.9 319.6,566.2 320.3,565.2 321.0,557.2 321.7,566.5 322.4,560.8 323.1,558.8 323.8,572.2 324.4,558.5 325.1,564.1 325.8,564.8 326.5,566.3 327.2,562.6 327.9,569.6 328.6,563.9 329.3,567.8 330.0,566.9 330.6,572.3 331.3,564.4 332.0,567.7 332.7,574.7 333.4,571.9 334.1,574.1 334.8,571.3 335.5,570.0 336.2,583.6 336.8,572.8 337.5,570.5 338.2,574.1 338.9,577.5 339.6,573.7 340.3,583.0 341.0,581.6 341.7,582.8 342.4,585.6 343.0,578.7 343.7,579.4 344.4,579.2 345.1,577.2 345.8,584.6 346.5,582.8 347.2,590.0 347.9,589.6 348.5,592.6 349.2,580.2 349.9,584.3 350.6,592.7 351.3,590.1 352.0,594.9 352.7,600.9 353.4,584.8 354.1,589.4 354.7,583.5 355.4,594.3 356.1,595.7 356.8,600.5 357.5,603.4 358.2,604.5 358.9,609.2 359.6,609.5 360.3,608.7 360.9,617.6 361.6,605.0 362.3,623.8 363.0,616.7 363.7,615.3 364.4,636.8 365.1,626.7 365.8,639.7 366.5,753.2 367.1,660.2 367.8,690.8 368.5,678.3 369.2,670.3 369.9,683.8 370.6,753.2 371.3,680.9 372.0,753.2 372.6,753.2 373.3,684.7 374.0,753.2 374.7,753.2 375.4,672.9 376.1,705.1 376.8,753.2 377.5,753.2 378.2,696.9 378.8,651.3 379.5,753.2 380.2,753.2 380.9,657.1 381.6,676.4 382.3,753.2 383.0,706.6 383.7,700.1 384.4,750.1 385.0,753.2 385.7,728.1 386.4,753.2 387.1,753.2 387.8,753.2 388.5,683.3 389.2,693.0 389.9,753.2 390.6,753.2 391.2,678.9 391.9,753.2 392.6,753.2 393.3,753.2 394.0,659.6 394.7,753.2 395.4,753.2 396.1,753.2 396.8,749.3 397.4,753.2 398.1,753.2 398.8,753.2 399.5,753.2 400.2,674.2 400.9,688.6 401.6,753.2 402.3,665.4 402.9,682.9 403.6,675.4 404.3,753.2 405.0,753.2 405.7,665.8 406.4,653.7 407.1,645.0 407.8,648.0 408.5,636.0 409.1,753.2 409.8,608.2 410.5,635.9 411.2,626.0 411.9,641.9 412.6,630.9 413.3,628.9 414.0,637.8 414.7,628.6 415.3,612.2 416.0,615.9 416.7,625.6 417.4,618.9 418.1,617.9 418.8,618.1 419.5,616.9 420.2,611.1 420.9,611.4 421.5,597.1 422.2,594.1 422.9,603.1 423.6,604.3 424.3,610.6 425.0,604.6 425.7,603.3 426.4,596.8 427.0,586.2 427.7,598.1 428.4,585.7 429.1,592.0 429.8,590.1 430.5,591.1 431.2,603.9 431.9,592.7 432.6,588.5 433.2,582.8 433.9,589.2 434.6,584.9 435.3,587.3 436.0,581.2 436.7,582.0 437.4,572.5 438.1,579.0 438.8,577.7 439.4,571.7 440.1,564.0 440.8,567.5 441.5,566.1 442.2,561.1 442.9,561.9 443.6,556.9 444.3,555.2 445.0,556.4 445.6,561.4 446.3,551.5 447.0,548.3 447.7,544.6 448.4,549.5 449.1,547.9 449.8,542.0 450.5,541.0 451.1,538.5 451.8,538.7 452.5,535.2 453.2,533.3 453.9,538.2 454.6,526.5 455.3,529.0 456.0,530.7 456.7,528.6 457.3,522.9 458.0,525.3 458.7,520.7 459.4,521.0 460.1,518.0 460.8,516.8 461.5,510.6 462.2,512.4 462.9,509.3 463.5,513.2 464.2,510.0 464.9,510.3 465.6,506.2 466.3,503.5 467.0,504.8 467.7,506.6 468.4,503.1 469.1,500.1 469.7,498.4 470.4,500.1 471.1,498.6 471.8,498.9 472.5,498.5 473.2,495.8 473.9,492.7 474.6,493.9 475.2,491.5 475.9,490.6 476.6,490.2 477.3,489.2 478.0,488.9 478.7,486.5 479.4,484.5 480.1,483.0 480.8,482.3 481.4,481.2 482.1,481.5 482.8,480.0 483.5,478.2 484.2,476.8 484.9,476.4 485.6,474.5 486.3,472.9 487.0,471.3 487.6,470.2 488.3,470.1 489.0,468.5 489.7,465.6 490.4,466.0 491.1,463.7 491.8,461.4 492.5,460.1 493.2,461.2 493.8,458.8 494.5,457.9 495.2,456.8 495.9,454.1 496.6,453.4 497.3,451.1 498.0,451.8 498.7,451.4 499.4,448.2 500.0,446.7 500.7,444.3 501.4,444.2 502.1,442.1 502.8,440.1 503.5,441.6 504.2,438.3 504.9,437.1 505.5,436.1 506.2,434.2 506.9,432.4 507.6,429.2 508.3,430.0 509.0,428.1 509.7,425.6 510.4,423.0 511.1,424.3 511.7,421.4 512.4,420.8 513.1,417.6 513.8,416.6 514.5,415.4 515.2,413.3 515.9,412.3 516.6,410.9 517.3,409.0 517.9,408.8 518.6,406.1 519.3,403.8 520.0,404.6 520.7,402.4 521.4,399.1 522.1,397.5 522.8,396.2 523.5,394.1 524.1,392.9 524.8,390.3 525.5,390.0 526.2,386.7 526.9,385.9 527.6,384.5 528.3,381.9 529.0,380.7 529.6,377.7 530.3,377.1 531.0,375.7 531.7,374.3 532.4,371.2 533.1,368.2 533.8,367.1 534.5,365.6 535.2,364.8 535.8,362.3 536.5,359.4 537.2,357.9 537.9,355.7 538.6,353.5 539.3,351.0 540.0,349.3 540.7,346.3 541.4,343.7 542.0,341.9 542.7,339.1 543.4,337.0 544.1,334.7 544.8,331.9 545.5,329.6 546.2,327.2 546.9,324.4 547.6,321.9 548.2,318.9 548.9,316.2 549.6,314.7 550.3,312.2 551.0,309.3 551.7,306.2 552.4,304.6 553.1,302.2 553.7,300.3 554.4,297.8 555.1,295.5 555.8,293.0 556.5,291.0 557.2,290.2 557.9,289.0 558.6,288.0 559.3,287.3 559.9,286.4 560.6,286.6 561.3,285.6 562.0,285.8 562.7,287.2 563.4,287.7 564.1,288.2 564.8,289.2 565.5,290.3 566.1,291.5 566.8,293.7 567.5,295.3 568.2,298.4 568.9,300.9 569.6,303.3 570.3,305.0 571.0,307.4 571.7,310.8 572.3,313.1 573.0,316.2 573.7,317.8 574.4,320.9 575.1,323.3 575.8,326.7 576.5,328.9 577.2,331.1 577.8,334.1 578.5,337.4 579.2,339.7 579.9,342.0 580.6,344.0 581.3,346.6 582.0,348.8 582.7,351.7 583.4,354.6 584.0,355.6 584.7,358.1 585.4,361.2 586.1,362.6 586.8,365.3 587.5,365.5 588.2,369.0 588.9,370.9 589.6,372.4 590.2,375.7 590.9,376.6 591.6,379.1 592.3,380.8 593.0,383.8 593.7,384.6 594.4,387.8 595.1,388.8 595.8,390.5 596.4,392.3 597.1,394.0 597.8,397.5 598.5,397.2 599.2,400.3 599.9,402.0 600.6,403.2 601.3,404.5 601.9,408.1 602.6,409.4 603.3,411.0 604.0,412.0 604.7,414.5 605.4,414.9 606.1,417.7 606.8,420.4 607.5,422.2 608.1,423.6 608.8,425.2 609.5,427.4 610.2,428.4 610.9,429.6 611.6,432.2 612.3,432.8 613.0,434.8 613.7,436.6 614.3,437.4 615.0,439.1 615.7,442.8 616.4,443.2 617.1,444.6 617.8,447.5 618.5,449.4 619.2,449.7 619.9,451.9 620.5,452.8 621.2,455.1 621.9,455.0 622.6,458.0 623.3,459.7 624.0,460.2 624.7,461.3 625.4,463.7 626.1,463.9 626.7,466.7 627.4,465.6 628.1,468.2 628.8,469.7 629.5,471.5 630.2,473.0 630.9,476.0 631.6,475.7 632.2,476.8 632.9,479.7 633.6,480.1 634.3,482.8 635.0,482.3 635.7,484.5 636.4,484.5 637.1,486.7 637.8,489.5 638.4,490.3 639.1,490.0 639.8,492.1 640.5,496.0 641.2,498.5 641.9,499.8 642.6,502.1 643.3,503.6 644.0,499.8 644.6,506.1 645.3,506.3 646.0,513.6 646.7,512.9 647.4,514.3 648.1,523.1 648.8,523.2 649.5,528.3 650.2,530.6 650.8,531.8 651.5,529.8 652.2,531.6 652.9,539.1 653.6,543.5 654.3,537.3 655.0,545.5 655.7,549.0 656.3,543.5 657.0,554.1 657.7,561.1 658.4,553.6 659.1,562.8 659.8,569.7 660.5,560.5 661.2,571.6 661.9,572.4 662.5,568.6 663.2,567.8 663.9,586.5 664.6,576.1 665.3,574.9 666.0,574.8 666.7,584.5 667.4,590.8 668.1,585.6 668.7,599.0"/>
</g>
<line x1="80.0" y1="277.50" x2="86.0" y2="277.50" stroke="#222" stroke-width="1.25"/>
<text transform="translate(55.04,283.94) scale(1.0531,1)" font-size="22.84">0</text>
<line x1="80.0" y1="334.81" x2="86.0" y2="334.81" stroke="#222" stroke-width="1.25"/>
<text transform="translate(43.89,341.17) scale(1.0408,1)" font-size="23.33">−5</text>
<line x1="80.0" y1="392.12" x2="86.0" y2="392.12" stroke="#222" stroke-width="1.25"/>
<text transform="translate(35.50,397.93) scale(1.0802,1)" font-size="22.21">−10</text>
<line x1="80.0" y1="449.44" x2="86.0" y2="449.44" stroke="#222" stroke-width="1.25"/>
<text transform="translate(35.50,455.46) scale(1.0643,1)" font-size="22.54">−15</text>
<line x1="80.0" y1="506.75" x2="86.0" y2="506.75" stroke="#222" stroke-width="1.25"/>
<text transform="translate(35.50,512.55) scale(1.0643,1)" font-size="22.54">−20</text>
<line x1="80.0" y1="564.06" x2="86.0" y2="564.06" stroke="#222" stroke-width="1.25"/>
<text transform="translate(35.50,570.08) scale(1.0484,1)" font-size="22.88">−25</text>
<line x1="80.0" y1="621.38" x2="86.0" y2="621.38" stroke="#222" stroke-width="1.25"/>
<text transform="translate(35.50,627.17) scale(1.0643,1)" font-size="22.54">−30</text>
<line x1="80.0" y1="678.69" x2="86.0" y2="678.69" stroke="#222" stroke-width="1.25"/>
<text transform="translate(35.50,684.71) scale(1.0484,1)" font-size="22.88">−35</text>
<line x1="80.0" y1="736.00" x2="86.0" y2="736.00" stroke="#222" stroke-width="1.25"/>
<text transform="translate(35.50,741.80) scale(1.0643,1)" font-size="22.54">−40</text>
<line x1="114.43" y1="736.0" x2="114.43" y2="730.0" stroke="#222" stroke-width="1.25"/>
<text transform="translate(92.00,758.34) scale(0.9754,1)" font-size="22.79">1546</text>
<line x1="183.29" y1="736.0" x2="183.29" y2="730.0" stroke="#222" stroke-width="1.25"/>
<text transform="translate(160.58,758.34) scale(0.9806,1)" font-size="22.79">1548</text>
<line x1="252.15" y1="736.0" x2="252.15" y2="730.0" stroke="#222" stroke-width="1.25"/>
<text transform="translate(229.17,758.34) scale(0.9806,1)" font-size="22.79">1550</text>
<line x1="321.01" y1="736.0" x2="321.01" y2="730.0" stroke="#222" stroke-width="1.25"/>
<text transform="translate(297.74,758.57) scale(0.9767,1)" font-size="23.13">1552</text>
<line x1="389.86" y1="736.0" x2="389.86" y2="730.0" stroke="#222" stroke-width="1.25"/>
<text transform="translate(366.37,758.57) scale(0.9560,1)" font-size="23.13">1554</text>
<line x1="458.72" y1="736.0" x2="458.72" y2="730.0" stroke="#222" stroke-width="1.25"/>
<text transform="translate(434.95,758.34) scale(0.9754,1)" font-size="22.79">1556</text>
<line x1="527.58" y1="736.0" x2="527.58" y2="730.0" stroke="#222" stroke-width="1.25"/>
<text transform="translate(503.53,758.34) scale(0.9806,1)" font-size="22.79">1558</text>
<line x1="596.44" y1="736.0" x2="596.44" y2="730.0" stroke="#222" stroke-width="1.25"/>
<text transform="translate(572.12,758.34) scale(0.9806,1)" font-size="22.79">1560</text>
<line x1="665.30" y1="736.0" x2="665.30" y2="730.0" stroke="#222" stroke-width="1.25"/>
<text transform="translate(640.69,758.34) scale(0.9912,1)" font-size="22.79">1562</text>
<rect x="79.85" y="277.45" width="585.6" height="458.6" fill="none" stroke="#222" stroke-width="1.45"/>
<text transform="translate(292.70,788.68) scale(1.0152,1)" font-size="22.00">Wavelength (nm)</text>
<text transform="translate(356.08,817.04) scale(1.1052,1)" font-size="20.78">(b)</text>
<text transform="translate(16.11,540.47) rotate(-90) scale(1.0069,1)" font-size="22.33">Loss (dB)</text>
<line x1="161.7" y1="319.05" x2="186.5" y2="319.05" stroke="#111" stroke-width="1.3"/>
<path d="M161.70,318.45 L164.80,318.15 L169.14,317.60 L171.99,316.50 L174.10,315.70 L176.21,316.50 L179.06,317.60 L183.40,318.15 L186.50,318.45 L186.50,319.65 L183.40,319.95 L179.06,320.50 L176.21,321.60 L174.10,322.40 L171.99,321.60 L169.14,320.50 L164.80,319.95 L161.70,319.65 Z" fill="#111"/>
<line x1="216.6" y1="319.2" x2="242.2" y2="319.2" stroke="#111" stroke-width="1.3"/>
<path d="M216.60,318.60 L219.80,318.30 L224.28,317.75 L227.22,316.65 L229.40,315.85 L231.58,316.65 L234.52,317.75 L239.00,318.30 L242.20,318.60 L242.20,319.80 L239.00,320.10 L234.52,320.65 L231.58,321.75 L229.40,322.55 L227.22,321.75 L224.28,320.65 L219.80,320.10 L216.60,319.80 Z" fill="#111"/>
<line x1="270.7" y1="319.2" x2="296.1" y2="319.2" stroke="#111" stroke-width="1.3"/>
<path d="M270.70,318.60 L273.87,318.30 L278.32,317.75 L281.24,316.65 L283.40,315.85 L285.56,316.65 L288.48,317.75 L292.93,318.30 L296.10,318.60 L296.10,319.80 L292.93,320.10 L288.48,320.65 L285.56,321.75 L283.40,322.55 L281.24,321.75 L278.32,320.65 L273.87,320.10 L270.70,319.80 Z" fill="#111"/>
<line x1="325.9" y1="319.2" x2="351.5" y2="319.2" stroke="#111" stroke-width="1.3"/>
<path d="M325.90,318.60 L329.10,318.30 L333.58,317.75 L336.52,316.65 L338.70,315.85 L340.88,316.65 L343.82,317.75 L348.30,318.30 L351.50,318.60 L351.50,319.80 L348.30,320.10 L343.82,320.65 L340.88,321.75 L338.70,322.55 L336.52,321.75 L333.58,320.65 L329.10,320.10 L325.90,319.80 Z" fill="#111"/>
<line x1="380.7" y1="322.2" x2="408.0" y2="322.2" stroke="#111" stroke-width="1.3"/>
<path d="M380.70,321.60 L384.11,321.30 L388.89,320.75 L392.03,319.65 L394.35,318.85 L396.67,319.65 L399.81,320.75 L404.59,321.30 L408.00,321.60 L408.00,322.80 L404.59,323.10 L399.81,323.65 L396.67,324.75 L394.35,325.55 L392.03,324.75 L388.89,323.65 L384.11,323.10 L380.70,322.80 Z" fill="#111"/>
<line x1="437.2" y1="320.5" x2="462.2" y2="320.5" stroke="#111" stroke-width="1.3"/>
<path d="M437.20,319.90 L440.32,319.60 L444.70,319.05 L447.57,317.95 L449.70,317.15 L451.82,317.95 L454.70,319.05 L459.07,319.60 L462.20,319.90 L462.20,321.10 L459.07,321.40 L454.70,321.95 L451.82,323.05 L449.70,323.85 L447.57,323.05 L444.70,321.95 L440.32,321.40 L437.20,321.10 Z" fill="#111"/>
<line x1="493.1" y1="318.5" x2="519.3" y2="318.5" stroke="#111" stroke-width="1.3"/>
<path d="M493.10,317.90 L496.38,317.60 L500.96,317.05 L503.97,315.95 L506.20,315.15 L508.43,315.95 L511.44,317.05 L516.02,317.60 L519.30,317.90 L519.30,319.10 L516.02,319.40 L511.44,319.95 L508.43,321.05 L506.20,321.85 L503.97,321.05 L500.96,319.95 L496.38,319.40 L493.10,319.10 Z" fill="#111"/>
<line x1="548.5" y1="319.8" x2="573.8" y2="319.8" stroke="#111" stroke-width="1.3"/>
<path d="M548.50,319.20 L551.66,318.90 L556.09,318.35 L559.00,317.25 L561.15,316.45 L563.30,317.25 L566.21,318.35 L570.64,318.90 L573.80,319.20 L573.80,320.40 L570.64,320.70 L566.21,321.25 L563.30,322.35 L561.15,323.15 L559.00,322.35 L556.09,321.25 L551.66,320.70 L548.50,320.40 Z" fill="#111"/>
<text class="sm" transform="translate(146.31,342.64) scale(0.9580,1)" font-size="18.09">0.81 nm</text>
<text class="sm" transform="translate(199.91,361.53) scale(0.9439,1)" font-size="18.36">0.82 nm</text>
<text class="sm" transform="translate(253.21,342.63) scale(0.9439,1)" font-size="18.36">0.83 nm</text>
<text class="sm" transform="translate(308.01,361.53) scale(0.9439,1)" font-size="18.36">0.83 nm</text>
<text class="sm" transform="translate(363.21,342.63) scale(0.9439,1)" font-size="18.36">0.82 nm</text>
<text class="sm" transform="translate(419.71,361.53) scale(0.9439,1)" font-size="18.36">0.82 nm</text>
<text class="sm" transform="translate(477.21,342.63) scale(0.9439,1)" font-size="18.36">0.82 nm</text>
<text class="sm" transform="translate(528.01,361.53) scale(0.9439,1)" font-size="18.36">0.82 nm</text>
<rect x="491.85" y="504.15" width="162.05" height="215.85" fill="#fff" stroke="#111" stroke-width="2.05"/>
<line x1="502.2" y1="519.40" x2="527.7" y2="519.40" stroke="#2f72b5" stroke-width="2.9" stroke-linecap="round"/>
<text class="sm" transform="translate(530.70,523.94) scale(0.9607,1)" font-size="18.17">Ch1 1547.72 nm</text>
<line x1="502.2" y1="545.59" x2="527.7" y2="545.59" stroke="#d45420" stroke-width="2.9" stroke-linecap="round"/>
<text class="sm" transform="translate(530.70,550.13) scale(0.9607,1)" font-size="18.17">Ch2 1549.32 nm</text>
<line x1="502.2" y1="571.78" x2="527.7" y2="571.78" stroke="#e6a635" stroke-width="2.9" stroke-linecap="round"/>
<text class="sm" transform="translate(530.70,576.32) scale(0.9607,1)" font-size="18.17">Ch3 1550.92 nm</text>
<line x1="502.2" y1="597.97" x2="527.7" y2="597.97" stroke="#822d9c" stroke-width="2.9" stroke-linecap="round"/>
<text class="sm" transform="translate(530.70,602.51) scale(0.9607,1)" font-size="18.17">Ch4 1552.52 nm</text>
<line x1="502.2" y1="624.16" x2="527.7" y2="624.16" stroke="#7aab2f" stroke-width="2.9" stroke-linecap="round"/>
<text class="sm" transform="translate(530.70,628.70) scale(0.9607,1)" font-size="18.17">Ch5 1554.13 nm</text>
<line x1="502.2" y1="650.35" x2="527.7" y2="650.35" stroke="#68b8dc" stroke-width="2.9" stroke-linecap="round"/>
<text class="sm" transform="translate(530.70,654.89) scale(0.9607,1)" font-size="18.17">Ch6 1555.75 nm</text>
<line x1="502.2" y1="676.54" x2="527.7" y2="676.54" stroke="#9c2233" stroke-width="2.9" stroke-linecap="round"/>
<text class="sm" transform="translate(530.70,681.08) scale(0.9607,1)" font-size="18.17">Ch7 1557.36 nm</text>
<line x1="502.2" y1="702.73" x2="527.7" y2="702.73" stroke="#2f72b5" stroke-width="2.9" stroke-linecap="round"/>
<text class="sm" transform="translate(530.70,707.27) scale(0.9607,1)" font-size="18.17">Ch8 1558.98 nm</text></svg></body></html>
